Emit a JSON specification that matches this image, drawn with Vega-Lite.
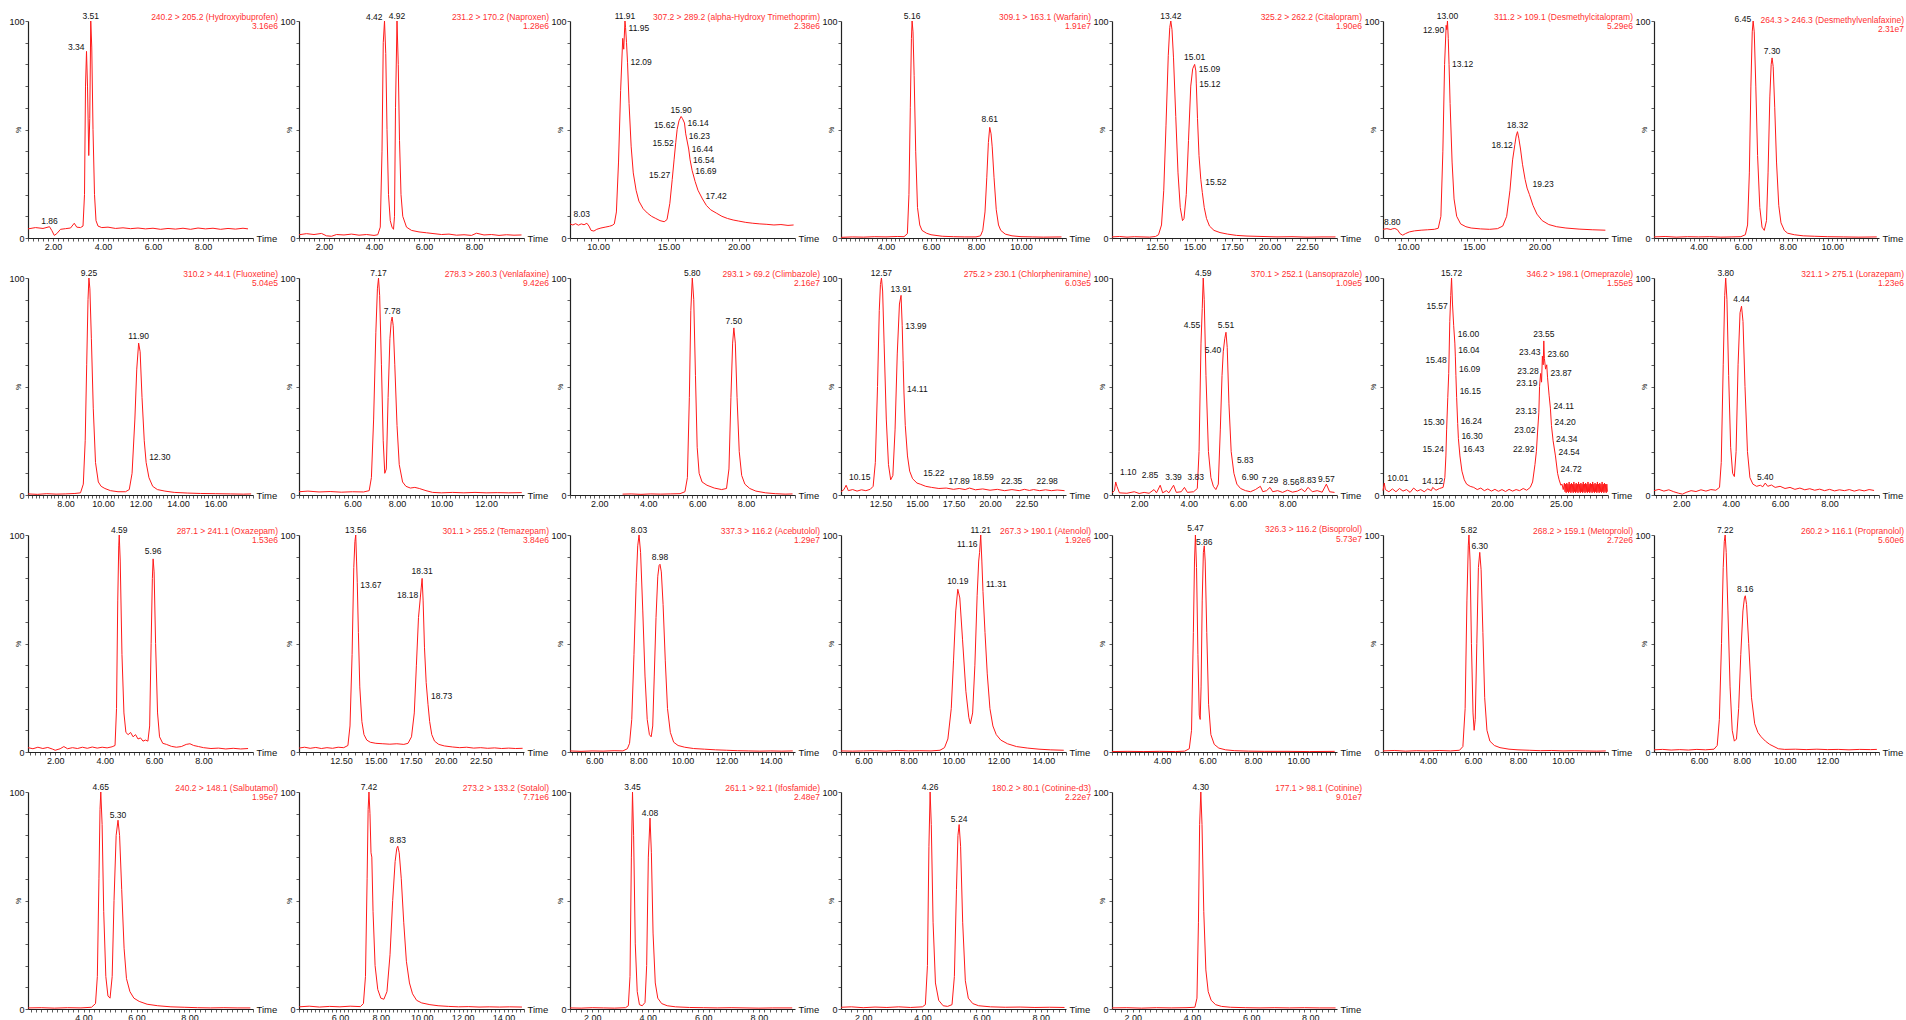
{
"$schema":"https://vega.github.io/schema/vega-lite/v6.json",
"background":"white",
"padding":{"left":8,"top":11,"right":0,"bottom":0},
"datasets":{
"L":[
{"p":1,"t":1.0,"v":4.2},{"p":1,"t":1.3,"v":4.8},{"p":1,"t":1.6,"v":4.4},{"p":1,"t":1.86,"v":5.2},{"p":1,"t":1.95,"v":3.5},{"p":1,"t":2.05,"v":1.2},{"p":1,"t":2.15,"v":2.0},{"p":1,"t":2.3,"v":4.0},{"p":1,"t":2.5,"v":4.3},{"p":1,"t":2.7,"v":4.6},{"p":1,"t":2.85,"v":6.8},{"p":1,"t":2.95,"v":5.0},{"p":1,"t":3.1,"v":4.8},{"p":1,"t":3.2,"v":5.5},{"p":1,"t":3.26,"v":20},{"p":1,"t":3.3,"v":70},{"p":1,"t":3.34,"v":86},{"p":1,"t":3.38,"v":70},{"p":1,"t":3.43,"v":38},{"p":1,"t":3.47,"v":55},{"p":1,"t":3.51,"v":100},{"p":1,"t":3.55,"v":88},{"p":1,"t":3.6,"v":50},{"p":1,"t":3.66,"v":20},{"p":1,"t":3.72,"v":8},{"p":1,"t":3.8,"v":5.5},{"p":1,"t":3.95,"v":4.8},{"p":1,"t":4.2,"v":5.0},{"p":1,"t":4.5,"v":4.4},{"p":1,"t":4.8,"v":4.7},{"p":1,"t":5.1,"v":4.3},{"p":1,"t":5.4,"v":4.6},{"p":1,"t":5.7,"v":4.2},{"p":1,"t":6.0,"v":4.5},{"p":1,"t":6.3,"v":4.0},{"p":1,"t":6.6,"v":4.4},{"p":1,"t":6.9,"v":4.1},{"p":1,"t":7.2,"v":4.5},{"p":1,"t":7.5,"v":4.0},{"p":1,"t":7.8,"v":4.6},{"p":1,"t":8.1,"v":4.2},{"p":1,"t":8.4,"v":4.5},{"p":1,"t":8.7,"v":4.0},{"p":1,"t":9.0,"v":4.4},{"p":1,"t":9.3,"v":4.1},{"p":1,"t":9.6,"v":4.5},{"p":1,"t":9.8,"v":4.2},
{"p":2,"t":1.0,"v":1.5},{"p":2,"t":1.3,"v":2.0},{"p":2,"t":1.6,"v":1.6},{"p":2,"t":1.9,"v":2.1},{"p":2,"t":2.1,"v":1.0},{"p":2,"t":2.3,"v":0.8},{"p":2,"t":2.5,"v":1.6},{"p":2,"t":2.8,"v":1.4},{"p":2,"t":3.1,"v":1.8},{"p":2,"t":3.4,"v":1.3},{"p":2,"t":3.7,"v":1.6},{"p":2,"t":4.0,"v":1.2},{"p":2,"t":4.15,"v":1.5},{"p":2,"t":4.25,"v":5},{"p":2,"t":4.32,"v":40},{"p":2,"t":4.37,"v":90},{"p":2,"t":4.42,"v":100},{"p":2,"t":4.47,"v":85},{"p":2,"t":4.52,"v":50},{"p":2,"t":4.58,"v":20},{"p":2,"t":4.65,"v":8},{"p":2,"t":4.72,"v":5},{"p":2,"t":4.78,"v":4},{"p":2,"t":4.82,"v":10},{"p":2,"t":4.86,"v":60},{"p":2,"t":4.92,"v":100},{"p":2,"t":4.97,"v":80},{"p":2,"t":5.02,"v":45},{"p":2,"t":5.08,"v":20},{"p":2,"t":5.15,"v":10},{"p":2,"t":5.3,"v":5},{"p":2,"t":5.5,"v":3.5},{"p":2,"t":5.8,"v":2.8},{"p":2,"t":6.1,"v":2.4},{"p":2,"t":6.4,"v":2.0},{"p":2,"t":6.7,"v":1.6},{"p":2,"t":7.0,"v":1.8},{"p":2,"t":7.3,"v":1.3},{"p":2,"t":7.6,"v":1.5},{"p":2,"t":7.9,"v":1.2},{"p":2,"t":8.1,"v":2.2},{"p":2,"t":8.4,"v":1.4},{"p":2,"t":8.7,"v":1.6},{"p":2,"t":9.0,"v":1.2},{"p":2,"t":9.3,"v":1.5},{"p":2,"t":9.6,"v":1.3},{"p":2,"t":9.9,"v":1.4},
{"p":3,"t":8.0,"v":6.5},{"p":3,"t":8.2,"v":6.0},{"p":3,"t":8.4,"v":6.6},{"p":3,"t":8.6,"v":5.9},{"p":3,"t":8.8,"v":6.5},{"p":3,"t":9.0,"v":6.1},{"p":3,"t":9.2,"v":6.8},{"p":3,"t":9.35,"v":5.5},{"p":3,"t":9.5,"v":3.5},{"p":3,"t":9.7,"v":3.2},{"p":3,"t":9.9,"v":4.0},{"p":3,"t":10.2,"v":4.6},{"p":3,"t":10.5,"v":5.0},{"p":3,"t":10.8,"v":5.4},{"p":3,"t":11.0,"v":5.8},{"p":3,"t":11.15,"v":6.5},{"p":3,"t":11.3,"v":12},{"p":3,"t":11.45,"v":35},{"p":3,"t":11.6,"v":68},{"p":3,"t":11.75,"v":92},{"p":3,"t":11.82,"v":87},{"p":3,"t":11.91,"v":100},{"p":3,"t":11.95,"v":97},{"p":3,"t":12.02,"v":90},{"p":3,"t":12.09,"v":81},{"p":3,"t":12.2,"v":62},{"p":3,"t":12.35,"v":42},{"p":3,"t":12.5,"v":30},{"p":3,"t":12.7,"v":22},{"p":3,"t":12.9,"v":17},{"p":3,"t":13.2,"v":13.5},{"p":3,"t":13.5,"v":11.5},{"p":3,"t":13.8,"v":10},{"p":3,"t":14.1,"v":9},{"p":3,"t":14.4,"v":8},{"p":3,"t":14.7,"v":7.5},{"p":3,"t":14.9,"v":8.5},{"p":3,"t":15.1,"v":16},{"p":3,"t":15.27,"v":27},{"p":3,"t":15.4,"v":36},{"p":3,"t":15.52,"v":44},{"p":3,"t":15.62,"v":50},{"p":3,"t":15.75,"v":54},{"p":3,"t":15.9,"v":56},{"p":3,"t":16.0,"v":55},{"p":3,"t":16.14,"v":53},{"p":3,"t":16.23,"v":48},{"p":3,"t":16.44,"v":41},{"p":3,"t":16.54,"v":36},{"p":3,"t":16.69,"v":31},{"p":3,"t":16.9,"v":26},{"p":3,"t":17.1,"v":22},{"p":3,"t":17.42,"v":18},{"p":3,"t":17.7,"v":15},{"p":3,"t":18.0,"v":13},{"p":3,"t":18.4,"v":11.5},{"p":3,"t":18.8,"v":10},{"p":3,"t":19.2,"v":9},{"p":3,"t":19.6,"v":8.3},{"p":3,"t":20.0,"v":7.8},{"p":3,"t":20.5,"v":7.2},{"p":3,"t":21.0,"v":6.8},{"p":3,"t":21.5,"v":6.5},{"p":3,"t":22.0,"v":6.3},{"p":3,"t":22.5,"v":6.0},{"p":3,"t":23.0,"v":6.2},{"p":3,"t":23.5,"v":5.8},{"p":3,"t":23.9,"v":6.0},
{"p":4,"t":2.0,"v":0.3},{"p":4,"t":2.5,"v":0.5},{"p":4,"t":3.0,"v":0.4},{"p":4,"t":3.5,"v":0.6},{"p":4,"t":4.0,"v":0.5},{"p":4,"t":4.5,"v":0.7},{"p":4,"t":4.8,"v":0.6},{"p":4,"t":4.95,"v":2},{"p":4,"t":5.02,"v":20},{"p":4,"t":5.08,"v":60},{"p":4,"t":5.13,"v":92},{"p":4,"t":5.16,"v":100},{"p":4,"t":5.2,"v":95},{"p":4,"t":5.25,"v":75},{"p":4,"t":5.32,"v":40},{"p":4,"t":5.4,"v":14},{"p":4,"t":5.5,"v":6},{"p":4,"t":5.6,"v":3.5},{"p":4,"t":5.8,"v":2.2},{"p":4,"t":6.0,"v":1.5},{"p":4,"t":6.5,"v":0.8},{"p":4,"t":7.0,"v":0.6},{"p":4,"t":7.5,"v":0.5},{"p":4,"t":8.0,"v":0.5},{"p":4,"t":8.2,"v":1.0},{"p":4,"t":8.3,"v":3.5},{"p":4,"t":8.4,"v":12},{"p":4,"t":8.48,"v":28},{"p":4,"t":8.55,"v":44},{"p":4,"t":8.61,"v":51},{"p":4,"t":8.67,"v":48},{"p":4,"t":8.72,"v":42},{"p":4,"t":8.8,"v":28},{"p":4,"t":8.9,"v":13},{"p":4,"t":9.0,"v":6},{"p":4,"t":9.1,"v":3.5},{"p":4,"t":9.3,"v":1.8},{"p":4,"t":9.6,"v":1.0},{"p":4,"t":10.0,"v":0.6},{"p":4,"t":10.5,"v":0.5},{"p":4,"t":11.0,"v":0.4},{"p":4,"t":11.8,"v":0.5},
{"p":5,"t":9.5,"v":0.5},{"p":5,"t":10.0,"v":0.7},{"p":5,"t":10.5,"v":0.4},{"p":5,"t":11.0,"v":0.6},{"p":5,"t":11.5,"v":0.5},{"p":5,"t":12.0,"v":0.4},{"p":5,"t":12.4,"v":0.7},{"p":5,"t":12.6,"v":1.5},{"p":5,"t":12.8,"v":6},{"p":5,"t":12.95,"v":22},{"p":5,"t":13.1,"v":52},{"p":5,"t":13.25,"v":84},{"p":5,"t":13.35,"v":97},{"p":5,"t":13.42,"v":100},{"p":5,"t":13.5,"v":96},{"p":5,"t":13.6,"v":83},{"p":5,"t":13.75,"v":56},{"p":5,"t":13.9,"v":30},{"p":5,"t":14.05,"v":14},{"p":5,"t":14.2,"v":8},{"p":5,"t":14.3,"v":9},{"p":5,"t":14.45,"v":20},{"p":5,"t":14.6,"v":45},{"p":5,"t":14.75,"v":70},{"p":5,"t":14.88,"v":78},{"p":5,"t":15.01,"v":80},{"p":5,"t":15.09,"v":77},{"p":5,"t":15.12,"v":71},{"p":5,"t":15.2,"v":55},{"p":5,"t":15.3,"v":38},{"p":5,"t":15.42,"v":27},{"p":5,"t":15.52,"v":21},{"p":5,"t":15.65,"v":14},{"p":5,"t":15.8,"v":9},{"p":5,"t":16.0,"v":5.5},{"p":5,"t":16.3,"v":3.5},{"p":5,"t":16.7,"v":2.5},{"p":5,"t":17.2,"v":1.8},{"p":5,"t":17.8,"v":1.2},{"p":5,"t":18.5,"v":0.9},{"p":5,"t":19.5,"v":0.7},{"p":5,"t":20.5,"v":0.5},{"p":5,"t":21.5,"v":0.6},{"p":5,"t":22.5,"v":0.4},{"p":5,"t":23.5,"v":0.5},{"p":5,"t":24.4,"v":0.5},
{"p":6,"t":8.1,"v":4.0},{"p":6,"t":8.4,"v":4.3},{"p":6,"t":8.7,"v":3.9},{"p":6,"t":8.8,"v":4.2},{"p":6,"t":9.0,"v":4.4},{"p":6,"t":9.2,"v":3.8},{"p":6,"t":9.4,"v":2.0},{"p":6,"t":9.6,"v":1.3},{"p":6,"t":9.8,"v":2.0},{"p":6,"t":10.1,"v":2.8},{"p":6,"t":10.5,"v":3.3},{"p":6,"t":11.0,"v":3.6},{"p":6,"t":11.5,"v":3.8},{"p":6,"t":12.0,"v":4.0},{"p":6,"t":12.3,"v":4.5},{"p":6,"t":12.5,"v":10},{"p":6,"t":12.65,"v":40},{"p":6,"t":12.78,"v":80},{"p":6,"t":12.9,"v":98},{"p":6,"t":12.95,"v":96},{"p":6,"t":13.0,"v":100},{"p":6,"t":13.06,"v":92},{"p":6,"t":13.12,"v":80},{"p":6,"t":13.2,"v":62},{"p":6,"t":13.35,"v":35},{"p":6,"t":13.5,"v":18},{"p":6,"t":13.7,"v":10},{"p":6,"t":14.0,"v":6.5},{"p":6,"t":14.4,"v":5.2},{"p":6,"t":14.8,"v":4.6},{"p":6,"t":15.5,"v":4.2},{"p":6,"t":16.2,"v":4.0},{"p":6,"t":16.8,"v":4.3},{"p":6,"t":17.2,"v":5.5},{"p":6,"t":17.5,"v":10},{"p":6,"t":17.75,"v":22},{"p":6,"t":17.95,"v":36},{"p":6,"t":18.12,"v":43},{"p":6,"t":18.22,"v":47},{"p":6,"t":18.32,"v":49},{"p":6,"t":18.42,"v":46},{"p":6,"t":18.55,"v":41},{"p":6,"t":18.7,"v":34},{"p":6,"t":18.9,"v":27},{"p":6,"t":19.05,"v":23},{"p":6,"t":19.23,"v":20},{"p":6,"t":19.5,"v":15},{"p":6,"t":19.8,"v":11},{"p":6,"t":20.2,"v":8},{"p":6,"t":20.7,"v":6.2},{"p":6,"t":21.3,"v":5.2},{"p":6,"t":22.0,"v":4.6},{"p":6,"t":23.0,"v":4.1},{"p":6,"t":24.0,"v":3.8},{"p":6,"t":25.0,"v":3.6},
{"p":7,"t":2.0,"v":0.5},{"p":7,"t":2.5,"v":0.7},{"p":7,"t":3.0,"v":0.4},{"p":7,"t":3.5,"v":0.6},{"p":7,"t":4.0,"v":0.5},{"p":7,"t":4.5,"v":0.6},{"p":7,"t":5.0,"v":0.4},{"p":7,"t":5.5,"v":0.5},{"p":7,"t":5.9,"v":0.6},{"p":7,"t":6.1,"v":1.5},{"p":7,"t":6.2,"v":6},{"p":7,"t":6.28,"v":30},{"p":7,"t":6.35,"v":70},{"p":7,"t":6.41,"v":95},{"p":7,"t":6.45,"v":100},{"p":7,"t":6.5,"v":95},{"p":7,"t":6.57,"v":70},{"p":7,"t":6.65,"v":38},{"p":7,"t":6.75,"v":14},{"p":7,"t":6.85,"v":5},{"p":7,"t":6.95,"v":3.5},{"p":7,"t":7.05,"v":8},{"p":7,"t":7.12,"v":30},{"p":7,"t":7.2,"v":65},{"p":7,"t":7.26,"v":80},{"p":7,"t":7.3,"v":83},{"p":7,"t":7.35,"v":79},{"p":7,"t":7.42,"v":60},{"p":7,"t":7.5,"v":35},{"p":7,"t":7.6,"v":15},{"p":7,"t":7.7,"v":7},{"p":7,"t":7.85,"v":3.5},{"p":7,"t":8.0,"v":2.2},{"p":7,"t":8.3,"v":1.5},{"p":7,"t":8.7,"v":1.0},{"p":7,"t":9.2,"v":0.8},{"p":7,"t":9.8,"v":0.6},{"p":7,"t":10.5,"v":0.5},{"p":7,"t":11.2,"v":0.4},{"p":7,"t":12.0,"v":0.5},
{"p":8,"t":6.0,"v":0.5},{"p":8,"t":6.5,"v":0.3},{"p":8,"t":7.0,"v":0.6},{"p":8,"t":7.5,"v":0.4},{"p":8,"t":8.0,"v":0.5},{"p":8,"t":8.5,"v":0.7},{"p":8,"t":8.8,"v":1.0},{"p":8,"t":8.95,"v":5},{"p":8,"t":9.05,"v":25},{"p":8,"t":9.13,"v":60},{"p":8,"t":9.2,"v":90},{"p":8,"t":9.25,"v":100},{"p":8,"t":9.3,"v":95},{"p":8,"t":9.38,"v":72},{"p":8,"t":9.48,"v":40},{"p":8,"t":9.6,"v":15},{"p":8,"t":9.75,"v":6},{"p":8,"t":9.9,"v":4},{"p":8,"t":10.1,"v":3},{"p":8,"t":10.4,"v":2},{"p":8,"t":10.8,"v":1.5},{"p":8,"t":11.2,"v":1.5},{"p":8,"t":11.4,"v":2.5},{"p":8,"t":11.55,"v":10},{"p":8,"t":11.7,"v":35},{"p":8,"t":11.8,"v":58},{"p":8,"t":11.9,"v":70},{"p":8,"t":11.98,"v":66},{"p":8,"t":12.08,"v":45},{"p":8,"t":12.2,"v":25},{"p":8,"t":12.3,"v":15},{"p":8,"t":12.45,"v":8},{"p":8,"t":12.65,"v":4},{"p":8,"t":12.9,"v":2.5},{"p":8,"t":13.3,"v":1.8},{"p":8,"t":13.8,"v":1.2},{"p":8,"t":14.5,"v":0.9},{"p":8,"t":15.2,"v":0.7},{"p":8,"t":16.0,"v":0.6},{"p":8,"t":16.8,"v":0.5},{"p":8,"t":17.5,"v":0.4},{"p":8,"t":17.9,"v":0.5},
{"p":9,"t":3.6,"v":1.5},{"p":9,"t":4.0,"v":1.8},{"p":9,"t":4.5,"v":1.4},{"p":9,"t":5.0,"v":1.6},{"p":9,"t":5.5,"v":1.3},{"p":9,"t":6.0,"v":1.5},{"p":9,"t":6.5,"v":1.4},{"p":9,"t":6.75,"v":2.0},{"p":9,"t":6.85,"v":8},{"p":9,"t":6.95,"v":35},{"p":9,"t":7.05,"v":75},{"p":9,"t":7.12,"v":95},{"p":9,"t":7.17,"v":100},{"p":9,"t":7.22,"v":92},{"p":9,"t":7.3,"v":60},{"p":9,"t":7.38,"v":25},{"p":9,"t":7.45,"v":10},{"p":9,"t":7.52,"v":12},{"p":9,"t":7.6,"v":45},{"p":9,"t":7.68,"v":72},{"p":9,"t":7.74,"v":80},{"p":9,"t":7.78,"v":82},{"p":9,"t":7.83,"v":78},{"p":9,"t":7.9,"v":60},{"p":9,"t":8.0,"v":32},{"p":9,"t":8.1,"v":14},{"p":9,"t":8.25,"v":6},{"p":9,"t":8.4,"v":4},{"p":9,"t":8.6,"v":3.2},{"p":9,"t":8.8,"v":3.5},{"p":9,"t":9.0,"v":3.0},{"p":9,"t":9.3,"v":2.0},{"p":9,"t":9.6,"v":1.2},{"p":9,"t":10.0,"v":1.0},{"p":9,"t":10.5,"v":1.2},{"p":9,"t":11.0,"v":1.0},{"p":9,"t":11.5,"v":1.2},{"p":9,"t":12.0,"v":1.0},{"p":9,"t":12.5,"v":1.1},{"p":9,"t":13.0,"v":1.0},{"p":9,"t":13.6,"v":1.1},
{"p":10,"t":2.95,"v":0.4},{"p":10,"t":3.3,"v":0.5},{"p":10,"t":3.7,"v":0.3},{"p":10,"t":4.1,"v":0.5},{"p":10,"t":4.5,"v":0.4},{"p":10,"t":4.9,"v":0.5},{"p":10,"t":5.3,"v":0.6},{"p":10,"t":5.5,"v":1.5},{"p":10,"t":5.6,"v":8},{"p":10,"t":5.68,"v":45},{"p":10,"t":5.74,"v":85},{"p":10,"t":5.8,"v":100},{"p":10,"t":5.86,"v":90},{"p":10,"t":5.93,"v":55},{"p":10,"t":6.0,"v":22},{"p":10,"t":6.08,"v":10},{"p":10,"t":6.2,"v":6},{"p":10,"t":6.4,"v":4.5},{"p":10,"t":6.7,"v":3.2},{"p":10,"t":7.0,"v":2.5},{"p":10,"t":7.2,"v":3},{"p":10,"t":7.3,"v":12},{"p":10,"t":7.38,"v":45},{"p":10,"t":7.45,"v":70},{"p":10,"t":7.5,"v":77},{"p":10,"t":7.56,"v":70},{"p":10,"t":7.63,"v":45},{"p":10,"t":7.72,"v":20},{"p":10,"t":7.82,"v":9},{"p":10,"t":7.95,"v":5},{"p":10,"t":8.15,"v":3},{"p":10,"t":8.4,"v":1.8},{"p":10,"t":8.8,"v":1.0},{"p":10,"t":9.2,"v":0.6},{"p":10,"t":9.6,"v":0.4},{"p":10,"t":9.9,"v":0.5},
{"p":11,"t":9.8,"v":1.5},{"p":11,"t":10.0,"v":2.5},{"p":11,"t":10.15,"v":4.5},{"p":11,"t":10.3,"v":2.0},{"p":11,"t":10.6,"v":2.5},{"p":11,"t":10.9,"v":1.8},{"p":11,"t":11.2,"v":2.4},{"p":11,"t":11.5,"v":2.0},{"p":11,"t":11.8,"v":2.6},{"p":11,"t":12.0,"v":4},{"p":11,"t":12.15,"v":15},{"p":11,"t":12.3,"v":50},{"p":11,"t":12.42,"v":85},{"p":11,"t":12.5,"v":97},{"p":11,"t":12.57,"v":100},{"p":11,"t":12.65,"v":94},{"p":11,"t":12.75,"v":70},{"p":11,"t":12.9,"v":35},{"p":11,"t":13.05,"v":14},{"p":11,"t":13.2,"v":7},{"p":11,"t":13.35,"v":9},{"p":11,"t":13.5,"v":30},{"p":11,"t":13.65,"v":65},{"p":11,"t":13.8,"v":88},{"p":11,"t":13.91,"v":92},{"p":11,"t":13.99,"v":78},{"p":11,"t":14.05,"v":62},{"p":11,"t":14.11,"v":47},{"p":11,"t":14.2,"v":32},{"p":11,"t":14.35,"v":18},{"p":11,"t":14.5,"v":11},{"p":11,"t":14.7,"v":7.5},{"p":11,"t":15.0,"v":5.5},{"p":11,"t":15.22,"v":5},{"p":11,"t":15.6,"v":4},{"p":11,"t":16.0,"v":3.5},{"p":11,"t":16.5,"v":3.0},{"p":11,"t":17.0,"v":3.2},{"p":11,"t":17.5,"v":2.6},{"p":11,"t":17.89,"v":3.0},{"p":11,"t":18.3,"v":2.5},{"p":11,"t":18.59,"v":3.2},{"p":11,"t":19.0,"v":2.4},{"p":11,"t":19.5,"v":2.8},{"p":11,"t":20.0,"v":2.2},{"p":11,"t":20.5,"v":2.6},{"p":11,"t":21.0,"v":2.0},{"p":11,"t":21.5,"v":2.5},{"p":11,"t":22.0,"v":2.0},{"p":11,"t":22.35,"v":2.6},{"p":11,"t":22.7,"v":2.1},{"p":11,"t":22.98,"v":2.5},{"p":11,"t":23.4,"v":2.0},{"p":11,"t":23.8,"v":2.4},{"p":11,"t":24.2,"v":2.0},{"p":11,"t":24.6,"v":2.3},{"p":11,"t":25.1,"v":2.0},
{"p":12,"t":0.9,"v":1.0},{"p":12,"t":1.0,"v":2.0},{"p":12,"t":1.05,"v":6.0},{"p":12,"t":1.1,"v":4.0},{"p":12,"t":1.2,"v":1.0},{"p":12,"t":1.5,"v":0.8},{"p":12,"t":1.8,"v":1.5},{"p":12,"t":2.0,"v":0.7},{"p":12,"t":2.2,"v":1.2},{"p":12,"t":2.4,"v":0.8},{"p":12,"t":2.6,"v":2.5},{"p":12,"t":2.7,"v":1.0},{"p":12,"t":2.85,"v":4.5},{"p":12,"t":2.95,"v":1.0},{"p":12,"t":3.1,"v":2.0},{"p":12,"t":3.2,"v":1.0},{"p":12,"t":3.39,"v":4.5},{"p":12,"t":3.5,"v":1.2},{"p":12,"t":3.7,"v":1.5},{"p":12,"t":3.83,"v":3.5},{"p":12,"t":3.95,"v":1.2},{"p":12,"t":4.2,"v":1.5},{"p":12,"t":4.35,"v":3},{"p":12,"t":4.42,"v":20},{"p":12,"t":4.5,"v":70},{"p":12,"t":4.55,"v":86},{"p":12,"t":4.59,"v":100},{"p":12,"t":4.63,"v":90},{"p":12,"t":4.7,"v":55},{"p":12,"t":4.8,"v":20},{"p":12,"t":4.9,"v":8},{"p":12,"t":5.0,"v":4},{"p":12,"t":5.1,"v":2.5},{"p":12,"t":5.2,"v":5},{"p":12,"t":5.28,"v":30},{"p":12,"t":5.35,"v":55},{"p":12,"t":5.4,"v":66},{"p":12,"t":5.46,"v":72},{"p":12,"t":5.51,"v":75},{"p":12,"t":5.56,"v":68},{"p":12,"t":5.63,"v":42},{"p":12,"t":5.72,"v":20},{"p":12,"t":5.83,"v":10},{"p":12,"t":5.95,"v":5},{"p":12,"t":6.1,"v":3},{"p":12,"t":6.3,"v":2.0},{"p":12,"t":6.5,"v":1.5},{"p":12,"t":6.7,"v":2.5},{"p":12,"t":6.9,"v":4.0},{"p":12,"t":7.0,"v":1.5},{"p":12,"t":7.15,"v":2.0},{"p":12,"t":7.29,"v":3.5},{"p":12,"t":7.4,"v":1.5},{"p":12,"t":7.6,"v":2.0},{"p":12,"t":7.8,"v":1.2},{"p":12,"t":8.0,"v":2.2},{"p":12,"t":8.2,"v":1.3},{"p":12,"t":8.4,"v":1.8},{"p":12,"t":8.56,"v":2.8},{"p":12,"t":8.7,"v":1.5},{"p":12,"t":8.83,"v":3.5},{"p":12,"t":9.0,"v":1.5},{"p":12,"t":9.2,"v":2.0},{"p":12,"t":9.4,"v":1.3},{"p":12,"t":9.57,"v":5.0},{"p":12,"t":9.7,"v":1.5},{"p":12,"t":9.9,"v":1.2},
{"p":13,"t":9.9,"v":2.0},{"p":13,"t":10.01,"v":5.5},{"p":13,"t":10.1,"v":2.5},{"p":13,"t":10.4,"v":1.5},{"p":13,"t":10.7,"v":2.8},{"p":13,"t":11.0,"v":1.5},{"p":13,"t":11.3,"v":3.0},{"p":13,"t":11.6,"v":1.8},{"p":13,"t":11.9,"v":2.5},{"p":13,"t":12.2,"v":1.2},{"p":13,"t":12.5,"v":3.2},{"p":13,"t":12.8,"v":1.8},{"p":13,"t":13.1,"v":2.5},{"p":13,"t":13.4,"v":1.5},{"p":13,"t":13.7,"v":2.8},{"p":13,"t":14.0,"v":2.0},{"p":13,"t":14.12,"v":3.5},{"p":13,"t":14.4,"v":2.2},{"p":13,"t":14.7,"v":3.0},{"p":13,"t":15.0,"v":3.5},{"p":13,"t":15.15,"v":8},{"p":13,"t":15.24,"v":18},{"p":13,"t":15.3,"v":30},{"p":13,"t":15.4,"v":45},{"p":13,"t":15.48,"v":56},{"p":13,"t":15.57,"v":80},{"p":13,"t":15.65,"v":92},{"p":13,"t":15.72,"v":100},{"p":13,"t":15.8,"v":88},{"p":13,"t":15.9,"v":78},{"p":13,"t":16.0,"v":70},{"p":13,"t":16.04,"v":64},{"p":13,"t":16.09,"v":55},{"p":13,"t":16.15,"v":45},{"p":13,"t":16.24,"v":33},{"p":13,"t":16.3,"v":26},{"p":13,"t":16.43,"v":18},{"p":13,"t":16.6,"v":11},{"p":13,"t":16.8,"v":7},{"p":13,"t":17.0,"v":5},{"p":13,"t":17.3,"v":4},{"p":13,"t":17.6,"v":3.5},{"p":13,"t":17.9,"v":2.5},{"p":13,"t":18.2,"v":3.2},{"p":13,"t":18.5,"v":2.0},{"p":13,"t":18.8,"v":2.8},{"p":13,"t":19.1,"v":1.8},{"p":13,"t":19.4,"v":2.6},{"p":13,"t":19.7,"v":1.7},{"p":13,"t":20.0,"v":2.5},{"p":13,"t":20.3,"v":1.6},{"p":13,"t":20.6,"v":2.6},{"p":13,"t":20.9,"v":1.8},{"p":13,"t":21.2,"v":2.5},{"p":13,"t":21.5,"v":2.0},{"p":13,"t":21.8,"v":3.0},{"p":13,"t":22.1,"v":2.2},{"p":13,"t":22.4,"v":3.5},{"p":13,"t":22.6,"v":6},{"p":13,"t":22.8,"v":14},{"p":13,"t":22.92,"v":20},{"p":13,"t":23.02,"v":29},{"p":13,"t":23.13,"v":38},{"p":13,"t":23.19,"v":50},{"p":13,"t":23.28,"v":56},{"p":13,"t":23.36,"v":52},{"p":13,"t":23.43,"v":64},{"p":13,"t":23.5,"v":60},{"p":13,"t":23.55,"v":71},{"p":13,"t":23.6,"v":63},{"p":13,"t":23.7,"v":58},{"p":13,"t":23.8,"v":60},{"p":13,"t":23.87,"v":54},{"p":13,"t":24.0,"v":46},{"p":13,"t":24.11,"v":40},{"p":13,"t":24.2,"v":32},{"p":13,"t":24.34,"v":25},{"p":13,"t":24.54,"v":18},{"p":13,"t":24.72,"v":10},{"p":13,"t":24.85,"v":7},{"p":13,"t":25.0,"v":4.5},{"p":13,"t":25.1,"v":5},{"p":13,"t":25.2,"v":2.5},{"p":13,"t":25.3,"v":5.5},{"p":13,"t":25.35,"v":1.5},{"p":13,"t":25.4,"v":5},{"p":13,"t":25.45,"v":1},{"p":13,"t":25.5,"v":5.5},{"p":13,"t":25.55,"v":1.5},{"p":13,"t":25.6,"v":5},{"p":13,"t":25.65,"v":1},{"p":13,"t":25.7,"v":6},{"p":13,"t":25.75,"v":1.5},{"p":13,"t":25.8,"v":5},{"p":13,"t":25.85,"v":1},{"p":13,"t":25.9,"v":5.5},{"p":13,"t":25.95,"v":1.5},{"p":13,"t":26.0,"v":5},{"p":13,"t":26.05,"v":1},{"p":13,"t":26.1,"v":6},{"p":13,"t":26.15,"v":1.5},{"p":13,"t":26.2,"v":5},{"p":13,"t":26.25,"v":1},{"p":13,"t":26.3,"v":5.5},{"p":13,"t":26.35,"v":1.5},{"p":13,"t":26.4,"v":5},{"p":13,"t":26.45,"v":1},{"p":13,"t":26.5,"v":6},{"p":13,"t":26.55,"v":1.5},{"p":13,"t":26.6,"v":5},{"p":13,"t":26.65,"v":1},{"p":13,"t":26.7,"v":5.5},{"p":13,"t":26.75,"v":1.5},{"p":13,"t":26.8,"v":5},{"p":13,"t":26.85,"v":1},{"p":13,"t":26.9,"v":6},{"p":13,"t":26.95,"v":1.5},{"p":13,"t":27.0,"v":5},{"p":13,"t":27.05,"v":1},{"p":13,"t":27.1,"v":5.5},{"p":13,"t":27.15,"v":1.5},{"p":13,"t":27.2,"v":5},{"p":13,"t":27.25,"v":1},{"p":13,"t":27.3,"v":6},{"p":13,"t":27.35,"v":1.5},{"p":13,"t":27.4,"v":5},{"p":13,"t":27.45,"v":1},{"p":13,"t":27.5,"v":5.5},{"p":13,"t":27.55,"v":1.5},{"p":13,"t":27.6,"v":5},{"p":13,"t":27.65,"v":1},{"p":13,"t":27.7,"v":6},{"p":13,"t":27.75,"v":1.5},{"p":13,"t":27.8,"v":5},{"p":13,"t":27.85,"v":1},{"p":13,"t":27.9,"v":5.5},{"p":13,"t":27.95,"v":1.5},{"p":13,"t":28.0,"v":5},{"p":13,"t":28.05,"v":1},{"p":13,"t":28.1,"v":6},{"p":13,"t":28.15,"v":1.5},{"p":13,"t":28.2,"v":5},{"p":13,"t":28.25,"v":1},{"p":13,"t":28.3,"v":5.5},{"p":13,"t":28.35,"v":1.5},{"p":13,"t":28.4,"v":5},{"p":13,"t":28.45,"v":1},{"p":13,"t":28.5,"v":6},{"p":13,"t":28.55,"v":1.5},{"p":13,"t":28.6,"v":5},{"p":13,"t":28.65,"v":1},{"p":13,"t":28.7,"v":5.5},{"p":13,"t":28.75,"v":1.5},{"p":13,"t":28.8,"v":5},{"p":13,"t":28.85,"v":1},{"p":13,"t":28.9,"v":5},{"p":13,"t":28.95,"v":1.5},
{"p":14,"t":0.9,"v":2.0},{"p":14,"t":1.1,"v":2.6},{"p":14,"t":1.3,"v":1.8},{"p":14,"t":1.5,"v":2.4},{"p":14,"t":1.7,"v":1.5},{"p":14,"t":1.9,"v":0.8},{"p":14,"t":2.05,"v":0.4},{"p":14,"t":2.2,"v":1.2},{"p":14,"t":2.4,"v":2.0},{"p":14,"t":2.6,"v":1.6},{"p":14,"t":2.8,"v":2.4},{"p":14,"t":3.0,"v":1.8},{"p":14,"t":3.2,"v":2.5},{"p":14,"t":3.4,"v":2.2},{"p":14,"t":3.55,"v":3.5},{"p":14,"t":3.62,"v":15},{"p":14,"t":3.7,"v":60},{"p":14,"t":3.76,"v":92},{"p":14,"t":3.8,"v":100},{"p":14,"t":3.85,"v":90},{"p":14,"t":3.92,"v":55},{"p":14,"t":4.0,"v":22},{"p":14,"t":4.08,"v":10},{"p":14,"t":4.15,"v":8.5},{"p":14,"t":4.22,"v":20},{"p":14,"t":4.3,"v":60},{"p":14,"t":4.38,"v":84},{"p":14,"t":4.44,"v":87},{"p":14,"t":4.5,"v":80},{"p":14,"t":4.58,"v":50},{"p":14,"t":4.68,"v":20},{"p":14,"t":4.78,"v":8},{"p":14,"t":4.9,"v":5},{"p":14,"t":5.05,"v":4},{"p":14,"t":5.2,"v":4.5},{"p":14,"t":5.3,"v":3.8},{"p":14,"t":5.4,"v":5.5},{"p":14,"t":5.5,"v":4.0},{"p":14,"t":5.65,"v":4.6},{"p":14,"t":5.8,"v":3.5},{"p":14,"t":6.0,"v":4.0},{"p":14,"t":6.2,"v":3.0},{"p":14,"t":6.4,"v":3.5},{"p":14,"t":6.6,"v":2.6},{"p":14,"t":6.8,"v":3.2},{"p":14,"t":7.0,"v":2.4},{"p":14,"t":7.2,"v":2.9},{"p":14,"t":7.4,"v":2.2},{"p":14,"t":7.6,"v":2.7},{"p":14,"t":7.8,"v":2.0},{"p":14,"t":8.0,"v":2.6},{"p":14,"t":8.2,"v":1.9},{"p":14,"t":8.4,"v":2.4},{"p":14,"t":8.6,"v":2.0},{"p":14,"t":8.8,"v":2.5},{"p":14,"t":9.0,"v":1.8},{"p":14,"t":9.2,"v":2.4},{"p":14,"t":9.4,"v":1.9},{"p":14,"t":9.6,"v":2.5},{"p":14,"t":9.8,"v":2.1},
{"p":15,"t":0.9,"v":2.0},{"p":15,"t":1.1,"v":1.5},{"p":15,"t":1.3,"v":2.2},{"p":15,"t":1.5,"v":1.6},{"p":15,"t":1.7,"v":2.1},{"p":15,"t":1.9,"v":1.3},{"p":15,"t":2.0,"v":0.8},{"p":15,"t":2.2,"v":1.5},{"p":15,"t":2.35,"v":2.5},{"p":15,"t":2.5,"v":1.5},{"p":15,"t":2.7,"v":2.0},{"p":15,"t":2.9,"v":1.6},{"p":15,"t":3.1,"v":2.2},{"p":15,"t":3.3,"v":1.7},{"p":15,"t":3.5,"v":2.3},{"p":15,"t":3.7,"v":1.8},{"p":15,"t":3.9,"v":2.2},{"p":15,"t":4.1,"v":1.9},{"p":15,"t":4.3,"v":2.4},{"p":15,"t":4.42,"v":3},{"p":15,"t":4.48,"v":20},{"p":15,"t":4.53,"v":70},{"p":15,"t":4.57,"v":95},{"p":15,"t":4.59,"v":100},{"p":15,"t":4.63,"v":88},{"p":15,"t":4.7,"v":45},{"p":15,"t":4.78,"v":18},{"p":15,"t":4.86,"v":9},{"p":15,"t":4.95,"v":8},{"p":15,"t":5.05,"v":9},{"p":15,"t":5.15,"v":7},{"p":15,"t":5.25,"v":8},{"p":15,"t":5.35,"v":6},{"p":15,"t":5.45,"v":6.5},{"p":15,"t":5.55,"v":5},{"p":15,"t":5.65,"v":5.5},{"p":15,"t":5.75,"v":5},{"p":15,"t":5.82,"v":12},{"p":15,"t":5.88,"v":50},{"p":15,"t":5.93,"v":80},{"p":15,"t":5.96,"v":89},{"p":15,"t":6.0,"v":83},{"p":15,"t":6.06,"v":50},{"p":15,"t":6.14,"v":18},{"p":15,"t":6.22,"v":7},{"p":15,"t":6.35,"v":4},{"p":15,"t":6.5,"v":3.5},{"p":15,"t":6.7,"v":2.6},{"p":15,"t":6.9,"v":2.2},{"p":15,"t":7.1,"v":2.5},{"p":15,"t":7.3,"v":3.5},{"p":15,"t":7.45,"v":3.8},{"p":15,"t":7.6,"v":3.0},{"p":15,"t":7.8,"v":2.5},{"p":15,"t":8.0,"v":2.0},{"p":15,"t":8.3,"v":1.6},{"p":15,"t":8.6,"v":1.8},{"p":15,"t":8.9,"v":1.4},{"p":15,"t":9.2,"v":1.7},{"p":15,"t":9.5,"v":1.4},{"p":15,"t":9.8,"v":1.6},
{"p":16,"t":9.5,"v":1.8},{"p":16,"t":9.9,"v":2.2},{"p":16,"t":10.3,"v":1.7},{"p":16,"t":10.7,"v":2.1},{"p":16,"t":11.1,"v":1.6},{"p":16,"t":11.5,"v":2.0},{"p":16,"t":11.9,"v":1.7},{"p":16,"t":12.3,"v":2.2},{"p":16,"t":12.7,"v":2.0},{"p":16,"t":13.0,"v":3},{"p":16,"t":13.15,"v":12},{"p":16,"t":13.3,"v":45},{"p":16,"t":13.42,"v":85},{"p":16,"t":13.5,"v":97},{"p":16,"t":13.56,"v":100},{"p":16,"t":13.62,"v":88},{"p":16,"t":13.67,"v":78},{"p":16,"t":13.75,"v":55},{"p":16,"t":13.85,"v":30},{"p":16,"t":14.0,"v":14},{"p":16,"t":14.15,"v":8},{"p":16,"t":14.35,"v":5.5},{"p":16,"t":14.6,"v":4.5},{"p":16,"t":15.0,"v":4.0},{"p":16,"t":15.5,"v":3.8},{"p":16,"t":16.0,"v":3.6},{"p":16,"t":16.5,"v":3.8},{"p":16,"t":17.0,"v":3.5},{"p":16,"t":17.3,"v":4.0},{"p":16,"t":17.55,"v":7},{"p":16,"t":17.75,"v":18},{"p":16,"t":17.9,"v":40},{"p":16,"t":18.05,"v":62},{"p":16,"t":18.18,"v":71},{"p":16,"t":18.25,"v":76},{"p":16,"t":18.31,"v":80},{"p":16,"t":18.38,"v":70},{"p":16,"t":18.48,"v":48},{"p":16,"t":18.6,"v":32},{"p":16,"t":18.73,"v":22},{"p":16,"t":18.85,"v":14},{"p":16,"t":19.0,"v":8},{"p":16,"t":19.2,"v":5},{"p":16,"t":19.5,"v":3.5},{"p":16,"t":19.9,"v":2.8},{"p":16,"t":20.5,"v":2.3},{"p":16,"t":21.0,"v":2.0},{"p":16,"t":21.5,"v":2.2},{"p":16,"t":22.0,"v":1.8},{"p":16,"t":22.5,"v":2.0},{"p":16,"t":23.0,"v":1.7},{"p":16,"t":23.5,"v":1.9},{"p":16,"t":24.0,"v":1.6},{"p":16,"t":24.5,"v":1.8},{"p":16,"t":25.0,"v":1.6},{"p":16,"t":25.5,"v":1.7},
{"p":17,"t":4.9,"v":0.5},{"p":17,"t":5.4,"v":0.3},{"p":17,"t":5.9,"v":0.5},{"p":17,"t":6.4,"v":0.4},{"p":17,"t":6.9,"v":0.6},{"p":17,"t":7.3,"v":0.5},{"p":17,"t":7.5,"v":1.5},{"p":17,"t":7.6,"v":4},{"p":17,"t":7.7,"v":15},{"p":17,"t":7.8,"v":45},{"p":17,"t":7.9,"v":78},{"p":17,"t":7.97,"v":95},{"p":17,"t":8.03,"v":100},{"p":17,"t":8.1,"v":92},{"p":17,"t":8.2,"v":65},{"p":17,"t":8.3,"v":35},{"p":17,"t":8.4,"v":15},{"p":17,"t":8.5,"v":8},{"p":17,"t":8.58,"v":7},{"p":17,"t":8.65,"v":12},{"p":17,"t":8.72,"v":35},{"p":17,"t":8.8,"v":62},{"p":17,"t":8.88,"v":81},{"p":17,"t":8.94,"v":86},{"p":17,"t":8.98,"v":86.5},{"p":17,"t":9.04,"v":83},{"p":17,"t":9.12,"v":68},{"p":17,"t":9.22,"v":42},{"p":17,"t":9.32,"v":20},{"p":17,"t":9.45,"v":9},{"p":17,"t":9.6,"v":4.5},{"p":17,"t":9.8,"v":3.0},{"p":17,"t":10.1,"v":2.2},{"p":17,"t":10.5,"v":1.6},{"p":17,"t":11.0,"v":1.3},{"p":17,"t":11.5,"v":1.0},{"p":17,"t":12.0,"v":0.8},{"p":17,"t":12.5,"v":0.6},{"p":17,"t":13.0,"v":0.5},{"p":17,"t":13.5,"v":0.4},{"p":17,"t":14.0,"v":0.5},{"p":17,"t":14.5,"v":0.4},{"p":17,"t":15.0,"v":0.5},
{"p":18,"t":5.0,"v":0.5},{"p":18,"t":5.5,"v":0.4},{"p":18,"t":6.0,"v":0.5},{"p":18,"t":6.5,"v":0.6},{"p":18,"t":7.0,"v":0.4},{"p":18,"t":7.5,"v":0.7},{"p":18,"t":8.0,"v":0.5},{"p":18,"t":8.5,"v":0.6},{"p":18,"t":9.0,"v":0.5},{"p":18,"t":9.4,"v":0.8},{"p":18,"t":9.6,"v":2.0},{"p":18,"t":9.75,"v":6},{"p":18,"t":9.9,"v":20},{"p":18,"t":10.0,"v":42},{"p":18,"t":10.1,"v":65},{"p":18,"t":10.19,"v":75},{"p":18,"t":10.28,"v":71},{"p":18,"t":10.4,"v":52},{"p":18,"t":10.55,"v":28},{"p":18,"t":10.68,"v":16},{"p":18,"t":10.75,"v":13},{"p":18,"t":10.85,"v":18},{"p":18,"t":10.95,"v":40},{"p":18,"t":11.05,"v":72},{"p":18,"t":11.12,"v":88},{"p":18,"t":11.16,"v":92},{"p":18,"t":11.21,"v":100},{"p":18,"t":11.26,"v":88},{"p":18,"t":11.31,"v":74},{"p":18,"t":11.4,"v":55},{"p":18,"t":11.5,"v":36},{"p":18,"t":11.62,"v":20},{"p":18,"t":11.75,"v":12},{"p":18,"t":11.9,"v":8},{"p":18,"t":12.1,"v":5.5},{"p":18,"t":12.4,"v":3.8},{"p":18,"t":12.8,"v":2.5},{"p":18,"t":13.3,"v":1.8},{"p":18,"t":13.8,"v":1.3},{"p":18,"t":14.3,"v":1.0},{"p":18,"t":14.9,"v":0.8},
{"p":19,"t":1.8,"v":0.2},{"p":19,"t":2.5,"v":0.3},{"p":19,"t":3.2,"v":0.2},{"p":19,"t":3.9,"v":0.3},{"p":19,"t":4.6,"v":0.2},{"p":19,"t":5.0,"v":0.4},{"p":19,"t":5.2,"v":1.5},{"p":19,"t":5.3,"v":10},{"p":19,"t":5.38,"v":55},{"p":19,"t":5.43,"v":88},{"p":19,"t":5.47,"v":100},{"p":19,"t":5.52,"v":85},{"p":19,"t":5.58,"v":45},{"p":19,"t":5.64,"v":17},{"p":19,"t":5.68,"v":15},{"p":19,"t":5.72,"v":30},{"p":19,"t":5.77,"v":70},{"p":19,"t":5.82,"v":92},{"p":19,"t":5.86,"v":95},{"p":19,"t":5.9,"v":88},{"p":19,"t":5.97,"v":55},{"p":19,"t":6.05,"v":22},{"p":19,"t":6.15,"v":8},{"p":19,"t":6.3,"v":3.5},{"p":19,"t":6.5,"v":1.8},{"p":19,"t":6.8,"v":1.0},{"p":19,"t":7.2,"v":0.6},{"p":19,"t":7.8,"v":0.4},{"p":19,"t":8.5,"v":0.3},{"p":19,"t":9.5,"v":0.3},{"p":19,"t":10.5,"v":0.2},{"p":19,"t":11.6,"v":0.3},
{"p":20,"t":2.0,"v":0.5},{"p":20,"t":2.5,"v":0.7},{"p":20,"t":3.0,"v":0.4},{"p":20,"t":3.5,"v":0.6},{"p":20,"t":4.0,"v":0.5},{"p":20,"t":4.5,"v":0.7},{"p":20,"t":5.0,"v":0.5},{"p":20,"t":5.4,"v":0.8},{"p":20,"t":5.55,"v":2.5},{"p":20,"t":5.65,"v":20},{"p":20,"t":5.73,"v":70},{"p":20,"t":5.79,"v":95},{"p":20,"t":5.82,"v":100},{"p":20,"t":5.87,"v":88},{"p":20,"t":5.93,"v":50},{"p":20,"t":6.0,"v":18},{"p":20,"t":6.05,"v":10},{"p":20,"t":6.1,"v":15},{"p":20,"t":6.17,"v":50},{"p":20,"t":6.24,"v":85},{"p":20,"t":6.3,"v":92},{"p":20,"t":6.36,"v":84},{"p":20,"t":6.44,"v":55},{"p":20,"t":6.52,"v":25},{"p":20,"t":6.62,"v":10},{"p":20,"t":6.75,"v":5},{"p":20,"t":6.95,"v":3},{"p":20,"t":7.2,"v":2.0},{"p":20,"t":7.6,"v":1.3},{"p":20,"t":8.0,"v":1.0},{"p":20,"t":8.5,"v":0.8},{"p":20,"t":9.0,"v":0.6},{"p":20,"t":9.5,"v":0.7},{"p":20,"t":10.0,"v":0.5},{"p":20,"t":10.5,"v":0.6},{"p":20,"t":11.0,"v":0.5},{"p":20,"t":11.5,"v":0.4},{"p":20,"t":11.9,"v":0.5},
{"p":21,"t":3.9,"v":1.0},{"p":21,"t":4.3,"v":1.2},{"p":21,"t":4.7,"v":0.9},{"p":21,"t":5.1,"v":1.1},{"p":21,"t":5.5,"v":0.9},{"p":21,"t":5.9,"v":1.2},{"p":21,"t":6.3,"v":1.0},{"p":21,"t":6.7,"v":1.3},{"p":21,"t":6.85,"v":3},{"p":21,"t":6.95,"v":15},{"p":21,"t":7.05,"v":50},{"p":21,"t":7.13,"v":85},{"p":21,"t":7.18,"v":97},{"p":21,"t":7.22,"v":100},{"p":21,"t":7.27,"v":92},{"p":21,"t":7.35,"v":65},{"p":21,"t":7.45,"v":30},{"p":21,"t":7.55,"v":10},{"p":21,"t":7.65,"v":5},{"p":21,"t":7.75,"v":6},{"p":21,"t":7.85,"v":20},{"p":21,"t":7.95,"v":45},{"p":21,"t":8.05,"v":65},{"p":21,"t":8.12,"v":71},{"p":21,"t":8.16,"v":72},{"p":21,"t":8.22,"v":68},{"p":21,"t":8.32,"v":50},{"p":21,"t":8.45,"v":25},{"p":21,"t":8.6,"v":13},{"p":21,"t":8.75,"v":9},{"p":21,"t":8.9,"v":7},{"p":21,"t":9.1,"v":5},{"p":21,"t":9.3,"v":3.5},{"p":21,"t":9.5,"v":2.5},{"p":21,"t":9.7,"v":1.5},{"p":21,"t":10.0,"v":1.2},{"p":21,"t":10.5,"v":1.3},{"p":21,"t":11.0,"v":1.1},{"p":21,"t":11.5,"v":1.3},{"p":21,"t":12.0,"v":1.1},{"p":21,"t":12.5,"v":1.2},{"p":21,"t":13.0,"v":1.0},{"p":21,"t":13.5,"v":1.2},{"p":21,"t":14.0,"v":1.1},{"p":21,"t":14.3,"v":1.2},
{"p":22,"t":1.9,"v":0.5},{"p":22,"t":2.4,"v":0.6},{"p":22,"t":2.9,"v":0.4},{"p":22,"t":3.4,"v":0.6},{"p":22,"t":3.9,"v":0.5},{"p":22,"t":4.3,"v":0.8},{"p":22,"t":4.45,"v":2.5},{"p":22,"t":4.52,"v":15},{"p":22,"t":4.58,"v":60},{"p":22,"t":4.62,"v":92},{"p":22,"t":4.65,"v":100},{"p":22,"t":4.7,"v":85},{"p":22,"t":4.76,"v":45},{"p":22,"t":4.84,"v":15},{"p":22,"t":4.92,"v":6},{"p":22,"t":5.0,"v":5},{"p":22,"t":5.08,"v":15},{"p":22,"t":5.15,"v":50},{"p":22,"t":5.23,"v":80},{"p":22,"t":5.3,"v":87},{"p":22,"t":5.36,"v":80},{"p":22,"t":5.44,"v":55},{"p":22,"t":5.53,"v":28},{"p":22,"t":5.62,"v":14},{"p":22,"t":5.75,"v":8},{"p":22,"t":5.9,"v":5},{"p":22,"t":6.1,"v":3.5},{"p":22,"t":6.4,"v":2.2},{"p":22,"t":6.8,"v":1.5},{"p":22,"t":7.3,"v":1.0},{"p":22,"t":7.8,"v":0.8},{"p":22,"t":8.3,"v":0.6},{"p":22,"t":8.8,"v":0.5},{"p":22,"t":9.3,"v":0.6},{"p":22,"t":9.8,"v":0.5},{"p":22,"t":10.3,"v":0.5},
{"p":23,"t":4.0,"v":1.0},{"p":23,"t":4.5,"v":1.3},{"p":23,"t":5.0,"v":0.9},{"p":23,"t":5.5,"v":1.2},{"p":23,"t":6.0,"v":1.0},{"p":23,"t":6.5,"v":1.3},{"p":23,"t":7.0,"v":1.1},{"p":23,"t":7.15,"v":2.5},{"p":23,"t":7.25,"v":15},{"p":23,"t":7.33,"v":60},{"p":23,"t":7.38,"v":92},{"p":23,"t":7.42,"v":100},{"p":23,"t":7.47,"v":90},{"p":23,"t":7.52,"v":72},{"p":23,"t":7.56,"v":70},{"p":23,"t":7.62,"v":45},{"p":23,"t":7.72,"v":20},{"p":23,"t":7.85,"v":9},{"p":23,"t":8.0,"v":5},{"p":23,"t":8.15,"v":4.5},{"p":23,"t":8.3,"v":8},{"p":23,"t":8.45,"v":25},{"p":23,"t":8.58,"v":50},{"p":23,"t":8.7,"v":68},{"p":23,"t":8.78,"v":74},{"p":23,"t":8.83,"v":75},{"p":23,"t":8.9,"v":72},{"p":23,"t":9.0,"v":60},{"p":23,"t":9.12,"v":40},{"p":23,"t":9.25,"v":22},{"p":23,"t":9.4,"v":12},{"p":23,"t":9.55,"v":7},{"p":23,"t":9.75,"v":4},{"p":23,"t":10.0,"v":2.8},{"p":23,"t":10.4,"v":2.0},{"p":23,"t":10.8,"v":1.5},{"p":23,"t":11.3,"v":1.2},{"p":23,"t":11.8,"v":1.0},{"p":23,"t":12.3,"v":1.1},{"p":23,"t":12.8,"v":0.9},{"p":23,"t":13.3,"v":1.0},{"p":23,"t":13.8,"v":0.9},{"p":23,"t":14.3,"v":1.0},{"p":23,"t":14.9,"v":0.9},
{"p":24,"t":1.2,"v":0.5},{"p":24,"t":1.6,"v":0.4},{"p":24,"t":2.0,"v":0.6},{"p":24,"t":2.4,"v":0.5},{"p":24,"t":2.8,"v":0.4},{"p":24,"t":3.2,"v":0.6},{"p":24,"t":3.3,"v":1.5},{"p":24,"t":3.36,"v":15},{"p":24,"t":3.41,"v":70},{"p":24,"t":3.45,"v":100},{"p":24,"t":3.49,"v":80},{"p":24,"t":3.55,"v":30},{"p":24,"t":3.62,"v":8},{"p":24,"t":3.7,"v":2},{"p":24,"t":3.8,"v":1.5},{"p":24,"t":3.9,"v":3},{"p":24,"t":3.96,"v":20},{"p":24,"t":4.02,"v":70},{"p":24,"t":4.08,"v":88},{"p":24,"t":4.13,"v":72},{"p":24,"t":4.19,"v":35},{"p":24,"t":4.27,"v":12},{"p":24,"t":4.36,"v":5},{"p":24,"t":4.5,"v":2.5},{"p":24,"t":4.7,"v":1.5},{"p":24,"t":5.0,"v":1.0},{"p":24,"t":5.5,"v":0.7},{"p":24,"t":6.0,"v":0.6},{"p":24,"t":6.5,"v":0.5},{"p":24,"t":7.0,"v":0.6},{"p":24,"t":7.5,"v":0.5},{"p":24,"t":8.0,"v":0.4},{"p":24,"t":8.5,"v":0.5},{"p":24,"t":9.2,"v":0.5},
{"p":25,"t":1.25,"v":0.8},{"p":25,"t":1.6,"v":1.0},{"p":25,"t":2.0,"v":0.6},{"p":25,"t":2.4,"v":0.9},{"p":25,"t":2.8,"v":0.7},{"p":25,"t":3.2,"v":1.0},{"p":25,"t":3.6,"v":0.7},{"p":25,"t":4.0,"v":1.0},{"p":25,"t":4.1,"v":2.0},{"p":25,"t":4.17,"v":20},{"p":25,"t":4.22,"v":75},{"p":25,"t":4.26,"v":100},{"p":25,"t":4.3,"v":85},{"p":25,"t":4.36,"v":40},{"p":25,"t":4.44,"v":12},{"p":25,"t":4.55,"v":4},{"p":25,"t":4.7,"v":1.5},{"p":25,"t":4.85,"v":1.2},{"p":25,"t":5.0,"v":2},{"p":25,"t":5.08,"v":15},{"p":25,"t":5.15,"v":55},{"p":25,"t":5.2,"v":80},{"p":25,"t":5.24,"v":85},{"p":25,"t":5.29,"v":75},{"p":25,"t":5.36,"v":40},{"p":25,"t":5.45,"v":13},{"p":25,"t":5.55,"v":5},{"p":25,"t":5.7,"v":2.5},{"p":25,"t":5.9,"v":1.5},{"p":25,"t":6.3,"v":1.0},{"p":25,"t":6.8,"v":0.8},{"p":25,"t":7.3,"v":0.9},{"p":25,"t":7.8,"v":0.7},{"p":25,"t":8.3,"v":0.8},{"p":25,"t":8.8,"v":0.7},
{"p":26,"t":1.3,"v":0.5},{"p":26,"t":1.8,"v":0.6},{"p":26,"t":2.3,"v":0.4},{"p":26,"t":2.8,"v":0.6},{"p":26,"t":3.3,"v":0.5},{"p":26,"t":3.8,"v":0.6},{"p":26,"t":4.1,"v":0.8},{"p":26,"t":4.17,"v":5},{"p":26,"t":4.22,"v":40},{"p":26,"t":4.26,"v":85},{"p":26,"t":4.3,"v":100},{"p":26,"t":4.34,"v":85},{"p":26,"t":4.4,"v":45},{"p":26,"t":4.47,"v":18},{"p":26,"t":4.55,"v":8},{"p":26,"t":4.65,"v":4},{"p":26,"t":4.8,"v":2.0},{"p":26,"t":5.0,"v":1.2},{"p":26,"t":5.3,"v":0.8},{"p":26,"t":5.8,"v":0.6},{"p":26,"t":6.3,"v":0.5},{"p":26,"t":6.8,"v":0.6},{"p":26,"t":7.3,"v":0.5},{"p":26,"t":7.8,"v":0.6},{"p":26,"t":8.3,"v":0.5},{"p":26,"t":8.85,"v":0.5}
],
"A":[
{"p":1,"t":1.86,"v":8,"s":"c"},{"p":1,"t":3.34,"v":88,"s":"l"},{"p":1,"t":3.51,"v":102.5,"s":"c"},
{"p":2,"t":4.42,"v":102,"s":"l"},{"p":2,"t":4.92,"v":102.5,"s":"c"},
{"p":3,"t":8.03,"v":11,"s":"r"},{"p":3,"t":11.91,"v":102.5,"s":"c"},{"p":3,"t":11.95,"v":97,"s":"r"},{"p":3,"t":12.09,"v":81,"s":"r"},{"p":3,"t":15.27,"v":29,"s":"l"},{"p":3,"t":15.52,"v":44,"s":"l"},{"p":3,"t":15.62,"v":52,"s":"l"},{"p":3,"t":15.9,"v":59,"s":"c"},{"p":3,"t":16.14,"v":53,"s":"r"},{"p":3,"t":16.23,"v":47,"s":"r"},{"p":3,"t":16.44,"v":41,"s":"r"},{"p":3,"t":16.54,"v":36,"s":"r"},{"p":3,"t":16.69,"v":31,"s":"r"},{"p":3,"t":17.42,"v":19.5,"s":"r"},
{"p":4,"t":5.16,"v":102.5,"s":"c"},{"p":4,"t":8.61,"v":55,"s":"c"},
{"p":5,"t":13.42,"v":102.5,"s":"c"},{"p":5,"t":15.01,"v":83.5,"s":"c"},{"p":5,"t":15.09,"v":78,"s":"r"},{"p":5,"t":15.12,"v":71,"s":"r"},{"p":5,"t":15.52,"v":26,"s":"r"},
{"p":6,"t":8.8,"v":7.5,"s":"c"},{"p":6,"t":12.9,"v":96,"s":"l"},{"p":6,"t":13.0,"v":102.5,"s":"c"},{"p":6,"t":13.12,"v":80,"s":"r"},{"p":6,"t":18.12,"v":43,"s":"l"},{"p":6,"t":18.32,"v":52,"s":"c"},{"p":6,"t":19.23,"v":25,"s":"r"},
{"p":7,"t":6.45,"v":101,"s":"l"},{"p":7,"t":7.3,"v":86,"s":"c"},
{"p":8,"t":9.25,"v":102.5,"s":"c"},{"p":8,"t":11.9,"v":73.5,"s":"c"},{"p":8,"t":12.3,"v":17.5,"s":"r"},
{"p":9,"t":7.17,"v":102.5,"s":"c"},{"p":9,"t":7.78,"v":85,"s":"c"},
{"p":10,"t":5.8,"v":102.5,"s":"c"},{"p":10,"t":7.5,"v":80,"s":"c"},
{"p":11,"t":10.15,"v":8.5,"s":"r"},{"p":11,"t":12.57,"v":102.5,"s":"c"},{"p":11,"t":13.91,"v":95,"s":"c"},{"p":11,"t":13.99,"v":78,"s":"r"},{"p":11,"t":14.11,"v":49,"s":"r"},{"p":11,"t":15.22,"v":10,"s":"r"},{"p":11,"t":17.89,"v":6.5,"s":"c"},{"p":11,"t":18.59,"v":8.5,"s":"r"},{"p":11,"t":22.35,"v":6.5,"s":"l"},{"p":11,"t":22.98,"v":6.5,"s":"r"},
{"p":12,"t":1.1,"v":10.8,"s":"r"},{"p":12,"t":2.85,"v":9,"s":"l"},{"p":12,"t":3.39,"v":8.5,"s":"c"},{"p":12,"t":3.83,"v":8.5,"s":"r"},{"p":12,"t":4.55,"v":78.5,"s":"l"},{"p":12,"t":4.59,"v":102.5,"s":"c"},{"p":12,"t":5.4,"v":67,"s":"l"},{"p":12,"t":5.51,"v":78.5,"s":"c"},{"p":12,"t":5.83,"v":16,"s":"r"},{"p":12,"t":6.9,"v":8.5,"s":"l"},{"p":12,"t":7.29,"v":7,"s":"c"},{"p":12,"t":8.56,"v":6,"s":"l"},{"p":12,"t":8.83,"v":7,"s":"c"},{"p":12,"t":9.57,"v":7.5,"s":"c"},
{"p":13,"t":10.01,"v":8,"s":"r"},{"p":13,"t":14.12,"v":6.5,"s":"c"},{"p":13,"t":15.72,"v":102.5,"s":"c"},{"p":13,"t":15.57,"v":87,"s":"l"},{"p":13,"t":16.0,"v":74,"s":"r"},{"p":13,"t":16.04,"v":67,"s":"r"},{"p":13,"t":15.48,"v":62,"s":"l"},{"p":13,"t":16.09,"v":58,"s":"r"},{"p":13,"t":16.15,"v":48,"s":"r"},{"p":13,"t":15.3,"v":33.5,"s":"l"},{"p":13,"t":16.24,"v":34,"s":"r"},{"p":13,"t":16.3,"v":27,"s":"r"},{"p":13,"t":15.24,"v":21,"s":"l"},{"p":13,"t":16.43,"v":21,"s":"r"},{"p":13,"t":23.55,"v":74,"s":"c"},{"p":13,"t":23.43,"v":66,"s":"l"},{"p":13,"t":23.6,"v":65,"s":"r"},{"p":13,"t":23.28,"v":57,"s":"l"},{"p":13,"t":23.87,"v":56,"s":"r"},{"p":13,"t":23.19,"v":51.5,"s":"l"},{"p":13,"t":24.11,"v":41,"s":"r"},{"p":13,"t":23.13,"v":38.5,"s":"l"},{"p":13,"t":24.2,"v":33.5,"s":"r"},{"p":13,"t":23.02,"v":30,"s":"l"},{"p":13,"t":24.34,"v":26,"s":"r"},{"p":13,"t":22.92,"v":21,"s":"l"},{"p":13,"t":24.54,"v":20,"s":"r"},{"p":13,"t":24.72,"v":12,"s":"r"},
{"p":14,"t":3.8,"v":102.5,"s":"c"},{"p":14,"t":4.44,"v":90.5,"s":"c"},{"p":14,"t":5.4,"v":8.5,"s":"c"},
{"p":15,"t":4.59,"v":102.5,"s":"c"},{"p":15,"t":5.96,"v":92.5,"s":"c"},
{"p":16,"t":13.56,"v":102.5,"s":"c"},{"p":16,"t":13.67,"v":77,"s":"r"},{"p":16,"t":18.18,"v":72.5,"s":"l"},{"p":16,"t":18.31,"v":83.5,"s":"c"},{"p":16,"t":18.73,"v":26,"s":"r"},
{"p":17,"t":8.03,"v":102.5,"s":"c"},{"p":17,"t":8.98,"v":90,"s":"c"},
{"p":18,"t":10.19,"v":79,"s":"c"},{"p":18,"t":11.16,"v":96,"s":"l"},{"p":18,"t":11.21,"v":102.5,"s":"c"},{"p":18,"t":11.31,"v":77.5,"s":"r"},
{"p":19,"t":5.47,"v":103,"s":"c"},{"p":19,"t":5.86,"v":97,"s":"c"},
{"p":20,"t":5.82,"v":102.5,"s":"c"},{"p":20,"t":6.3,"v":95,"s":"c"},
{"p":21,"t":7.22,"v":102.5,"s":"c"},{"p":21,"t":8.16,"v":75,"s":"c"},
{"p":22,"t":4.65,"v":102.5,"s":"c"},{"p":22,"t":5.3,"v":89.5,"s":"c"},
{"p":23,"t":7.42,"v":102.5,"s":"c"},{"p":23,"t":8.83,"v":78,"s":"c"},
{"p":24,"t":3.45,"v":102.5,"s":"c"},{"p":24,"t":4.08,"v":90.5,"s":"c"},
{"p":25,"t":4.26,"v":102.5,"s":"c"},{"p":25,"t":5.24,"v":87.5,"s":"c"},
{"p":26,"t":4.3,"v":102.5,"s":"c"}
]
},
"columns":7,
"spacing":{"row":40,"column":46},
"bounds":"flush",
"concat":[
{"title":{"text":"240.2 > 205.2 (Hydroxyibuprofen)","subtitle":"3.16e6"},"encoding":{"x":{"field":"t","type":"quantitative","title":"Time","scale":{"domain":[1,10],"nice":false,"zero":false},"axis":{"tickCount":45,"labelExpr":"datum.value%2==0&&datum.value>1.5&&datum.value<9.5?format(datum.value,'.2f'):''"}},"y":{"field":"v","type":"quantitative","title":"%","scale":{"domain":[0,100],"nice":false},"axis":{"tickCount":10,"labelExpr":"datum.value==0||datum.value==100?datum.label:''"}}},"layer":[{"data":{"name":"L"},"transform":[{"filter":"datum.p==1"}],"mark":"line","encoding":{}},{"data":{"name":"A"},"transform":[{"filter":"datum.p==1&&datum.s=='c'"}],"mark":{"type":"text","style":"pc"},"encoding":{"text":{"field":"t","type":"quantitative","format":".2f"}}},{"data":{"name":"A"},"transform":[{"filter":"datum.p==1&&datum.s=='l'"}],"mark":{"type":"text","style":"pl"},"encoding":{"text":{"field":"t","type":"quantitative","format":".2f"}}}]},
{"title":{"text":"231.2 > 170.2 (Naproxen)","subtitle":"1.28e6"},"encoding":{"x":{"field":"t","type":"quantitative","title":"Time","scale":{"domain":[1,10],"nice":false,"zero":false},"axis":{"tickCount":45,"labelExpr":"datum.value%2==0&&datum.value>1.5&&datum.value<9.5?format(datum.value,'.2f'):''"}},"y":{"field":"v","type":"quantitative","title":"%","scale":{"domain":[0,100],"nice":false},"axis":{"tickCount":10,"labelExpr":"datum.value==0||datum.value==100?datum.label:''"}}},"layer":[{"data":{"name":"L"},"transform":[{"filter":"datum.p==2"}],"mark":"line","encoding":{}},{"data":{"name":"A"},"transform":[{"filter":"datum.p==2&&datum.s=='c'"}],"mark":{"type":"text","style":"pc"},"encoding":{"text":{"field":"t","type":"quantitative","format":".2f"}}},{"data":{"name":"A"},"transform":[{"filter":"datum.p==2&&datum.s=='l'"}],"mark":{"type":"text","style":"pl"},"encoding":{"text":{"field":"t","type":"quantitative","format":".2f"}}}]},
{"title":{"text":"307.2 > 289.2 (alpha-Hydroxy Trimethoprim)","subtitle":"2.38e6"},"encoding":{"x":{"field":"t","type":"quantitative","title":"Time","scale":{"domain":[8,24],"nice":false,"zero":false},"axis":{"tickCount":32,"labelExpr":"datum.value%5==0&&datum.value>9&&datum.value<23?format(datum.value,'.2f'):''"}},"y":{"field":"v","type":"quantitative","title":"%","scale":{"domain":[0,100],"nice":false},"axis":{"tickCount":10,"labelExpr":"datum.value==0||datum.value==100?datum.label:''"}}},"layer":[{"data":{"name":"L"},"transform":[{"filter":"datum.p==3"}],"mark":"line","encoding":{}},{"data":{"name":"A"},"transform":[{"filter":"datum.p==3&&datum.s=='c'"}],"mark":{"type":"text","style":"pc"},"encoding":{"text":{"field":"t","type":"quantitative","format":".2f"}}},{"data":{"name":"A"},"transform":[{"filter":"datum.p==3&&datum.s=='l'"}],"mark":{"type":"text","style":"pl"},"encoding":{"text":{"field":"t","type":"quantitative","format":".2f"}}},{"data":{"name":"A"},"transform":[{"filter":"datum.p==3&&datum.s=='r'"}],"mark":{"type":"text","style":"pr"},"encoding":{"text":{"field":"t","type":"quantitative","format":".2f"}}}]},
{"title":{"text":"309.1 > 163.1 (Warfarin)","subtitle":"1.91e7"},"encoding":{"x":{"field":"t","type":"quantitative","title":"Time","scale":{"domain":[2,12],"nice":false,"zero":false},"axis":{"tickCount":50,"labelExpr":"datum.value%2==0&&datum.value>3&&datum.value<11?format(datum.value,'.2f'):''"}},"y":{"field":"v","type":"quantitative","title":"%","scale":{"domain":[0,100],"nice":false},"axis":{"tickCount":10,"labelExpr":"datum.value==0||datum.value==100?datum.label:''"}}},"layer":[{"data":{"name":"L"},"transform":[{"filter":"datum.p==4"}],"mark":"line","encoding":{}},{"data":{"name":"A"},"transform":[{"filter":"datum.p==4&&datum.s=='c'"}],"mark":{"type":"text","style":"pc"},"encoding":{"text":{"field":"t","type":"quantitative","format":".2f"}}}]},
{"title":{"text":"325.2 > 262.2 (Citalopram)","subtitle":"1.90e6"},"encoding":{"x":{"field":"t","type":"quantitative","title":"Time","scale":{"domain":[9.5,24.5],"nice":false,"zero":false},"axis":{"tickCount":30,"labelExpr":"datum.value%2.5==0&&datum.value>12&&datum.value<23?format(datum.value,'.2f'):''"}},"y":{"field":"v","type":"quantitative","title":"%","scale":{"domain":[0,100],"nice":false},"axis":{"tickCount":10,"labelExpr":"datum.value==0||datum.value==100?datum.label:''"}}},"layer":[{"data":{"name":"L"},"transform":[{"filter":"datum.p==5"}],"mark":"line","encoding":{}},{"data":{"name":"A"},"transform":[{"filter":"datum.p==5&&datum.s=='c'"}],"mark":{"type":"text","style":"pc"},"encoding":{"text":{"field":"t","type":"quantitative","format":".2f"}}},{"data":{"name":"A"},"transform":[{"filter":"datum.p==5&&datum.s=='r'"}],"mark":{"type":"text","style":"pr"},"encoding":{"text":{"field":"t","type":"quantitative","format":".2f"}}}]},
{"title":{"text":"311.2 > 109.1 (Desmethylcitalopram)","subtitle":"5.29e6"},"encoding":{"x":{"field":"t","type":"quantitative","title":"Time","scale":{"domain":[8.1,25.2],"nice":false,"zero":false},"axis":{"tickCount":34,"labelExpr":"datum.value%5==0&&datum.value>9&&datum.value<24?format(datum.value,'.2f'):''"}},"y":{"field":"v","type":"quantitative","title":"%","scale":{"domain":[0,100],"nice":false},"axis":{"tickCount":10,"labelExpr":"datum.value==0||datum.value==100?datum.label:''"}}},"layer":[{"data":{"name":"L"},"transform":[{"filter":"datum.p==6"}],"mark":"line","encoding":{}},{"data":{"name":"A"},"transform":[{"filter":"datum.p==6&&datum.s=='c'"}],"mark":{"type":"text","style":"pc"},"encoding":{"text":{"field":"t","type":"quantitative","format":".2f"}}},{"data":{"name":"A"},"transform":[{"filter":"datum.p==6&&datum.s=='l'"}],"mark":{"type":"text","style":"pl"},"encoding":{"text":{"field":"t","type":"quantitative","format":".2f"}}},{"data":{"name":"A"},"transform":[{"filter":"datum.p==6&&datum.s=='r'"}],"mark":{"type":"text","style":"pr"},"encoding":{"text":{"field":"t","type":"quantitative","format":".2f"}}}]},
{"title":{"text":"264.3 > 246.3 (Desmethylvenlafaxine)","subtitle":"2.31e7"},"encoding":{"x":{"field":"t","type":"quantitative","title":"Time","scale":{"domain":[2,12.1],"nice":false,"zero":false},"axis":{"tickCount":50,"labelExpr":"datum.value%2==0&&datum.value>3&&datum.value<11?format(datum.value,'.2f'):''"}},"y":{"field":"v","type":"quantitative","title":"%","scale":{"domain":[0,100],"nice":false},"axis":{"tickCount":10,"labelExpr":"datum.value==0||datum.value==100?datum.label:''"}}},"layer":[{"data":{"name":"L"},"transform":[{"filter":"datum.p==7"}],"mark":"line","encoding":{}},{"data":{"name":"A"},"transform":[{"filter":"datum.p==7&&datum.s=='c'"}],"mark":{"type":"text","style":"pc"},"encoding":{"text":{"field":"t","type":"quantitative","format":".2f"}}},{"data":{"name":"A"},"transform":[{"filter":"datum.p==7&&datum.s=='l'"}],"mark":{"type":"text","style":"pl"},"encoding":{"text":{"field":"t","type":"quantitative","format":".2f"}}}]},
{"title":{"text":"310.2 > 44.1 (Fluoxetine)","subtitle":"5.04e5"},"encoding":{"x":{"field":"t","type":"quantitative","title":"Time","scale":{"domain":[6,18],"nice":false,"zero":false},"axis":{"tickCount":60,"labelExpr":"datum.value%2==0&&datum.value>7&&datum.value<17?format(datum.value,'.2f'):''"}},"y":{"field":"v","type":"quantitative","title":"%","scale":{"domain":[0,100],"nice":false},"axis":{"tickCount":10,"labelExpr":"datum.value==0||datum.value==100?datum.label:''"}}},"layer":[{"data":{"name":"L"},"transform":[{"filter":"datum.p==8"}],"mark":"line","encoding":{}},{"data":{"name":"A"},"transform":[{"filter":"datum.p==8&&datum.s=='c'"}],"mark":{"type":"text","style":"pc"},"encoding":{"text":{"field":"t","type":"quantitative","format":".2f"}}},{"data":{"name":"A"},"transform":[{"filter":"datum.p==8&&datum.s=='r'"}],"mark":{"type":"text","style":"pr"},"encoding":{"text":{"field":"t","type":"quantitative","format":".2f"}}}]},
{"title":{"text":"278.3 > 260.3 (Venlafaxine)","subtitle":"9.42e6"},"encoding":{"x":{"field":"t","type":"quantitative","title":"Time","scale":{"domain":[3.6,13.7],"nice":false,"zero":false},"axis":{"tickCount":50,"labelExpr":"datum.value%2==0&&datum.value>5&&datum.value<13?format(datum.value,'.2f'):''"}},"y":{"field":"v","type":"quantitative","title":"%","scale":{"domain":[0,100],"nice":false},"axis":{"tickCount":10,"labelExpr":"datum.value==0||datum.value==100?datum.label:''"}}},"layer":[{"data":{"name":"L"},"transform":[{"filter":"datum.p==9"}],"mark":"line","encoding":{}},{"data":{"name":"A"},"transform":[{"filter":"datum.p==9&&datum.s=='c'"}],"mark":{"type":"text","style":"pc"},"encoding":{"text":{"field":"t","type":"quantitative","format":".2f"}}}]},
{"title":{"text":"293.1 > 69.2 (Climbazole)","subtitle":"2.16e7"},"encoding":{"x":{"field":"t","type":"quantitative","title":"Time","scale":{"domain":[0.8,10],"nice":false,"zero":false},"axis":{"tickCount":46,"labelExpr":"datum.value%2==0&&datum.value>1&&datum.value<9?format(datum.value,'.2f'):''"}},"y":{"field":"v","type":"quantitative","title":"%","scale":{"domain":[0,100],"nice":false},"axis":{"tickCount":10,"labelExpr":"datum.value==0||datum.value==100?datum.label:''"}}},"layer":[{"data":{"name":"L"},"transform":[{"filter":"datum.p==10"}],"mark":"line","encoding":{}},{"data":{"name":"A"},"transform":[{"filter":"datum.p==10&&datum.s=='c'"}],"mark":{"type":"text","style":"pc"},"encoding":{"text":{"field":"t","type":"quantitative","format":".2f"}}}]},
{"title":{"text":"275.2 > 230.1 (Chlorpheniramine)","subtitle":"6.03e5"},"encoding":{"x":{"field":"t","type":"quantitative","title":"Time","scale":{"domain":[9.8,25.2],"nice":false,"zero":false},"axis":{"tickCount":31,"labelExpr":"datum.value%2.5==0&&datum.value>12&&datum.value<23?format(datum.value,'.2f'):''"}},"y":{"field":"v","type":"quantitative","title":"%","scale":{"domain":[0,100],"nice":false},"axis":{"tickCount":10,"labelExpr":"datum.value==0||datum.value==100?datum.label:''"}}},"layer":[{"data":{"name":"L"},"transform":[{"filter":"datum.p==11"}],"mark":"line","encoding":{}},{"data":{"name":"A"},"transform":[{"filter":"datum.p==11&&datum.s=='c'"}],"mark":{"type":"text","style":"pc"},"encoding":{"text":{"field":"t","type":"quantitative","format":".2f"}}},{"data":{"name":"A"},"transform":[{"filter":"datum.p==11&&datum.s=='l'"}],"mark":{"type":"text","style":"pl"},"encoding":{"text":{"field":"t","type":"quantitative","format":".2f"}}},{"data":{"name":"A"},"transform":[{"filter":"datum.p==11&&datum.s=='r'"}],"mark":{"type":"text","style":"pr"},"encoding":{"text":{"field":"t","type":"quantitative","format":".2f"}}}]},
{"title":{"text":"370.1 > 252.1 (Lansoprazole)","subtitle":"1.09e5"},"encoding":{"x":{"field":"t","type":"quantitative","title":"Time","scale":{"domain":[0.9,10],"nice":false,"zero":false},"axis":{"tickCount":45,"labelExpr":"datum.value%2==0&&datum.value>1&&datum.value<9?format(datum.value,'.2f'):''"}},"y":{"field":"v","type":"quantitative","title":"%","scale":{"domain":[0,100],"nice":false},"axis":{"tickCount":10,"labelExpr":"datum.value==0||datum.value==100?datum.label:''"}}},"layer":[{"data":{"name":"L"},"transform":[{"filter":"datum.p==12"}],"mark":"line","encoding":{}},{"data":{"name":"A"},"transform":[{"filter":"datum.p==12&&datum.s=='c'"}],"mark":{"type":"text","style":"pc"},"encoding":{"text":{"field":"t","type":"quantitative","format":".2f"}}},{"data":{"name":"A"},"transform":[{"filter":"datum.p==12&&datum.s=='l'"}],"mark":{"type":"text","style":"pl"},"encoding":{"text":{"field":"t","type":"quantitative","format":".2f"}}},{"data":{"name":"A"},"transform":[{"filter":"datum.p==12&&datum.s=='r'"}],"mark":{"type":"text","style":"pr"},"encoding":{"text":{"field":"t","type":"quantitative","format":".2f"}}}]},
{"title":{"text":"346.2 > 198.1 (Omeprazole)","subtitle":"1.55e5"},"encoding":{"x":{"field":"t","type":"quantitative","title":"Time","scale":{"domain":[9.9,29],"nice":false,"zero":false},"axis":{"tickCount":38,"labelExpr":"datum.value%5==0&&datum.value>12&&datum.value<27?format(datum.value,'.2f'):''"}},"y":{"field":"v","type":"quantitative","title":"%","scale":{"domain":[0,100],"nice":false},"axis":{"tickCount":10,"labelExpr":"datum.value==0||datum.value==100?datum.label:''"}}},"layer":[{"data":{"name":"L"},"transform":[{"filter":"datum.p==13"}],"mark":"line","encoding":{}},{"data":{"name":"A"},"transform":[{"filter":"datum.p==13&&datum.s=='c'"}],"mark":{"type":"text","style":"pc"},"encoding":{"text":{"field":"t","type":"quantitative","format":".2f"}}},{"data":{"name":"A"},"transform":[{"filter":"datum.p==13&&datum.s=='l'"}],"mark":{"type":"text","style":"pl"},"encoding":{"text":{"field":"t","type":"quantitative","format":".2f"}}},{"data":{"name":"A"},"transform":[{"filter":"datum.p==13&&datum.s=='r'"}],"mark":{"type":"text","style":"pr"},"encoding":{"text":{"field":"t","type":"quantitative","format":".2f"}}}]},
{"title":{"text":"321.1 > 275.1 (Lorazepam)","subtitle":"1.23e6"},"encoding":{"x":{"field":"t","type":"quantitative","title":"Time","scale":{"domain":[0.9,10],"nice":false,"zero":false},"axis":{"tickCount":45,"labelExpr":"datum.value%2==0&&datum.value>1&&datum.value<9?format(datum.value,'.2f'):''"}},"y":{"field":"v","type":"quantitative","title":"%","scale":{"domain":[0,100],"nice":false},"axis":{"tickCount":10,"labelExpr":"datum.value==0||datum.value==100?datum.label:''"}}},"layer":[{"data":{"name":"L"},"transform":[{"filter":"datum.p==14"}],"mark":"line","encoding":{}},{"data":{"name":"A"},"transform":[{"filter":"datum.p==14&&datum.s=='c'"}],"mark":{"type":"text","style":"pc"},"encoding":{"text":{"field":"t","type":"quantitative","format":".2f"}}}]},
{"title":{"text":"287.1 > 241.1 (Oxazepam)","subtitle":"1.53e6"},"encoding":{"x":{"field":"t","type":"quantitative","title":"Time","scale":{"domain":[0.9,10],"nice":false,"zero":false},"axis":{"tickCount":45,"labelExpr":"datum.value%2==0&&datum.value>1&&datum.value<9?format(datum.value,'.2f'):''"}},"y":{"field":"v","type":"quantitative","title":"%","scale":{"domain":[0,100],"nice":false},"axis":{"tickCount":10,"labelExpr":"datum.value==0||datum.value==100?datum.label:''"}}},"layer":[{"data":{"name":"L"},"transform":[{"filter":"datum.p==15"}],"mark":"line","encoding":{}},{"data":{"name":"A"},"transform":[{"filter":"datum.p==15&&datum.s=='c'"}],"mark":{"type":"text","style":"pc"},"encoding":{"text":{"field":"t","type":"quantitative","format":".2f"}}}]},
{"title":{"text":"301.1 > 255.2 (Temazepam)","subtitle":"3.84e6"},"encoding":{"x":{"field":"t","type":"quantitative","title":"Time","scale":{"domain":[9.5,25.6],"nice":false,"zero":false},"axis":{"tickCount":32,"labelExpr":"datum.value%2.5==0&&datum.value>12&&datum.value<23?format(datum.value,'.2f'):''"}},"y":{"field":"v","type":"quantitative","title":"%","scale":{"domain":[0,100],"nice":false},"axis":{"tickCount":10,"labelExpr":"datum.value==0||datum.value==100?datum.label:''"}}},"layer":[{"data":{"name":"L"},"transform":[{"filter":"datum.p==16"}],"mark":"line","encoding":{}},{"data":{"name":"A"},"transform":[{"filter":"datum.p==16&&datum.s=='c'"}],"mark":{"type":"text","style":"pc"},"encoding":{"text":{"field":"t","type":"quantitative","format":".2f"}}},{"data":{"name":"A"},"transform":[{"filter":"datum.p==16&&datum.s=='l'"}],"mark":{"type":"text","style":"pl"},"encoding":{"text":{"field":"t","type":"quantitative","format":".2f"}}},{"data":{"name":"A"},"transform":[{"filter":"datum.p==16&&datum.s=='r'"}],"mark":{"type":"text","style":"pr"},"encoding":{"text":{"field":"t","type":"quantitative","format":".2f"}}}]},
{"title":{"text":"337.3 > 116.2 (Acebutolol)","subtitle":"1.29e7"},"encoding":{"x":{"field":"t","type":"quantitative","title":"Time","scale":{"domain":[4.9,15.1],"nice":false,"zero":false},"axis":{"tickCount":51,"labelExpr":"datum.value%2==0&&datum.value>5&&datum.value<15?format(datum.value,'.2f'):''"}},"y":{"field":"v","type":"quantitative","title":"%","scale":{"domain":[0,100],"nice":false},"axis":{"tickCount":10,"labelExpr":"datum.value==0||datum.value==100?datum.label:''"}}},"layer":[{"data":{"name":"L"},"transform":[{"filter":"datum.p==17"}],"mark":"line","encoding":{}},{"data":{"name":"A"},"transform":[{"filter":"datum.p==17&&datum.s=='c'"}],"mark":{"type":"text","style":"pc"},"encoding":{"text":{"field":"t","type":"quantitative","format":".2f"}}}]},
{"title":{"text":"267.3 > 190.1 (Atenolol)","subtitle":"1.92e6"},"encoding":{"x":{"field":"t","type":"quantitative","title":"Time","scale":{"domain":[5,15],"nice":false,"zero":false},"axis":{"tickCount":50,"labelExpr":"datum.value%2==0&&datum.value>5.5&&datum.value<14.5?format(datum.value,'.2f'):''"}},"y":{"field":"v","type":"quantitative","title":"%","scale":{"domain":[0,100],"nice":false},"axis":{"tickCount":10,"labelExpr":"datum.value==0||datum.value==100?datum.label:''"}}},"layer":[{"data":{"name":"L"},"transform":[{"filter":"datum.p==18"}],"mark":"line","encoding":{}},{"data":{"name":"A"},"transform":[{"filter":"datum.p==18&&datum.s=='c'"}],"mark":{"type":"text","style":"pc"},"encoding":{"text":{"field":"t","type":"quantitative","format":".2f"}}},{"data":{"name":"A"},"transform":[{"filter":"datum.p==18&&datum.s=='l'"}],"mark":{"type":"text","style":"pl"},"encoding":{"text":{"field":"t","type":"quantitative","format":".2f"}}},{"data":{"name":"A"},"transform":[{"filter":"datum.p==18&&datum.s=='r'"}],"mark":{"type":"text","style":"pr"},"encoding":{"text":{"field":"t","type":"quantitative","format":".2f"}}}]},
{"title":{"text":"326.3 > 116.2 (Bisoprolol)","subtitle":"5.73e7"},"encoding":{"x":{"field":"t","type":"quantitative","title":"Time","scale":{"domain":[1.8,11.7],"nice":false,"zero":false},"axis":{"tickCount":50,"labelExpr":"datum.value%2==0&&datum.value>3&&datum.value<11?format(datum.value,'.2f'):''"}},"y":{"field":"v","type":"quantitative","title":"%","scale":{"domain":[0,100],"nice":false},"axis":{"tickCount":10,"labelExpr":"datum.value==0||datum.value==100?datum.label:''"}}},"layer":[{"data":{"name":"L"},"transform":[{"filter":"datum.p==19"}],"mark":"line","encoding":{}},{"data":{"name":"A"},"transform":[{"filter":"datum.p==19&&datum.s=='c'"}],"mark":{"type":"text","style":"pc"},"encoding":{"text":{"field":"t","type":"quantitative","format":".2f"}}}]},
{"title":{"text":"268.2 > 159.1 (Metoprolol)","subtitle":"2.72e6"},"encoding":{"x":{"field":"t","type":"quantitative","title":"Time","scale":{"domain":[2,12],"nice":false,"zero":false},"axis":{"tickCount":50,"labelExpr":"datum.value%2==0&&datum.value>3&&datum.value<11?format(datum.value,'.2f'):''"}},"y":{"field":"v","type":"quantitative","title":"%","scale":{"domain":[0,100],"nice":false},"axis":{"tickCount":10,"labelExpr":"datum.value==0||datum.value==100?datum.label:''"}}},"layer":[{"data":{"name":"L"},"transform":[{"filter":"datum.p==20"}],"mark":"line","encoding":{}},{"data":{"name":"A"},"transform":[{"filter":"datum.p==20&&datum.s=='c'"}],"mark":{"type":"text","style":"pc"},"encoding":{"text":{"field":"t","type":"quantitative","format":".2f"}}}]},
{"title":{"text":"260.2 > 116.1 (Propranolol)","subtitle":"5.60e6"},"encoding":{"x":{"field":"t","type":"quantitative","title":"Time","scale":{"domain":[3.9,14.4],"nice":false,"zero":false},"axis":{"tickCount":52,"labelExpr":"datum.value%2==0&&datum.value>5&&datum.value<13?format(datum.value,'.2f'):''"}},"y":{"field":"v","type":"quantitative","title":"%","scale":{"domain":[0,100],"nice":false},"axis":{"tickCount":10,"labelExpr":"datum.value==0||datum.value==100?datum.label:''"}}},"layer":[{"data":{"name":"L"},"transform":[{"filter":"datum.p==21"}],"mark":"line","encoding":{}},{"data":{"name":"A"},"transform":[{"filter":"datum.p==21&&datum.s=='c'"}],"mark":{"type":"text","style":"pc"},"encoding":{"text":{"field":"t","type":"quantitative","format":".2f"}}}]},
{"title":{"text":"240.2 > 148.1 (Salbutamol)","subtitle":"1.95e7"},"encoding":{"x":{"field":"t","type":"quantitative","title":"Time","scale":{"domain":[1.9,10.4],"nice":false,"zero":false},"axis":{"tickCount":42,"labelExpr":"datum.value%2==0&&datum.value>3&&datum.value<9?format(datum.value,'.2f'):''"}},"y":{"field":"v","type":"quantitative","title":"%","scale":{"domain":[0,100],"nice":false},"axis":{"tickCount":10,"labelExpr":"datum.value==0||datum.value==100?datum.label:''"}}},"layer":[{"data":{"name":"L"},"transform":[{"filter":"datum.p==22"}],"mark":"line","encoding":{}},{"data":{"name":"A"},"transform":[{"filter":"datum.p==22&&datum.s=='c'"}],"mark":{"type":"text","style":"pc"},"encoding":{"text":{"field":"t","type":"quantitative","format":".2f"}}}]},
{"title":{"text":"273.2 > 133.2 (Sotalol)","subtitle":"7.71e6"},"encoding":{"x":{"field":"t","type":"quantitative","title":"Time","scale":{"domain":[4,15],"nice":false,"zero":false},"axis":{"tickCount":55,"labelExpr":"datum.value%2==0&&datum.value>5&&datum.value<14.5?format(datum.value,'.2f'):''"}},"y":{"field":"v","type":"quantitative","title":"%","scale":{"domain":[0,100],"nice":false},"axis":{"tickCount":10,"labelExpr":"datum.value==0||datum.value==100?datum.label:''"}}},"layer":[{"data":{"name":"L"},"transform":[{"filter":"datum.p==23"}],"mark":"line","encoding":{}},{"data":{"name":"A"},"transform":[{"filter":"datum.p==23&&datum.s=='c'"}],"mark":{"type":"text","style":"pc"},"encoding":{"text":{"field":"t","type":"quantitative","format":".2f"}}}]},
{"title":{"text":"261.1 > 92.1 (Ifosfamide)","subtitle":"2.48e7"},"encoding":{"x":{"field":"t","type":"quantitative","title":"Time","scale":{"domain":[1.2,9.3],"nice":false,"zero":false},"axis":{"tickCount":40,"labelExpr":"datum.value%2==0&&datum.value>1.5&&datum.value<9?format(datum.value,'.2f'):''"}},"y":{"field":"v","type":"quantitative","title":"%","scale":{"domain":[0,100],"nice":false},"axis":{"tickCount":10,"labelExpr":"datum.value==0||datum.value==100?datum.label:''"}}},"layer":[{"data":{"name":"L"},"transform":[{"filter":"datum.p==24"}],"mark":"line","encoding":{}},{"data":{"name":"A"},"transform":[{"filter":"datum.p==24&&datum.s=='c'"}],"mark":{"type":"text","style":"pc"},"encoding":{"text":{"field":"t","type":"quantitative","format":".2f"}}}]},
{"title":{"text":"180.2 > 80.1 (Cotinine-d3)","subtitle":"2.22e7"},"encoding":{"x":{"field":"t","type":"quantitative","title":"Time","scale":{"domain":[1.25,8.85],"nice":false,"zero":false},"axis":{"tickCount":38,"labelExpr":"datum.value%2==0&&datum.value>1.5&&datum.value<8.5?format(datum.value,'.2f'):''"}},"y":{"field":"v","type":"quantitative","title":"%","scale":{"domain":[0,100],"nice":false},"axis":{"tickCount":10,"labelExpr":"datum.value==0||datum.value==100?datum.label:''"}}},"layer":[{"data":{"name":"L"},"transform":[{"filter":"datum.p==25"}],"mark":"line","encoding":{}},{"data":{"name":"A"},"transform":[{"filter":"datum.p==25&&datum.s=='c'"}],"mark":{"type":"text","style":"pc"},"encoding":{"text":{"field":"t","type":"quantitative","format":".2f"}}}]},
{"title":{"text":"177.1 > 98.1 (Cotinine)","subtitle":"9.01e7"},"encoding":{"x":{"field":"t","type":"quantitative","title":"Time","scale":{"domain":[1.3,8.9],"nice":false,"zero":false},"axis":{"tickCount":38,"labelExpr":"datum.value%2==0&&datum.value>1.5&&datum.value<8.5?format(datum.value,'.2f'):''"}},"y":{"field":"v","type":"quantitative","title":"%","scale":{"domain":[0,100],"nice":false},"axis":{"tickCount":10,"labelExpr":"datum.value==0||datum.value==100?datum.label:''"}}},"layer":[{"data":{"name":"L"},"transform":[{"filter":"datum.p==26"}],"mark":"line","encoding":{}},{"data":{"name":"A"},"transform":[{"filter":"datum.p==26&&datum.s=='c'"}],"mark":{"type":"text","style":"pc"},"encoding":{"text":{"field":"t","type":"quantitative","format":".2f"}}}]}
],
"config":{
"view":{"stroke":null,"continuousWidth":225,"continuousHeight":217},
"font":"Liberation Sans",
"axis":{"grid":false,"domainColor":"#222","domainWidth":1.2,"tickColor":"#333","tickSize":3,"tickWidth":0.8,"labelFont":"Liberation Sans","labelFontSize":9,"labelColor":"#111","labelPadding":1,"labelOverlap":false,"labelFlush":false,"titleFont":"Liberation Sans","titleFontWeight":"normal","titleColor":"#111"},
"axisX":{"titleX":228,"titleY":0,"titleAlign":"left","titleBaseline":"middle","titleFontSize":9.5,"titleAngle":0},
"axisY":{"titleX":-10,"titleY":108.5,"titleFontSize":7,"titleAngle":-90,"titleAlign":"center","titleBaseline":"middle"},
"title":{"anchor":"end","frame":"group","font":"Liberation Sans","fontSize":8.5,"fontWeight":"normal","color":"#ff3030","subtitleFont":"Liberation Sans","subtitleFontSize":8.5,"subtitleColor":"#ff3030","subtitlePadding":1,"offset":-8,"dx":25,"dy":11},
"line":{"color":"#ff1a1a","strokeWidth":1},
"text":{"font":"Liberation Sans","fontSize":8.5,"color":"#111","baseline":"middle"},
"style":{"pc":{"align":"center"},"pl":{"align":"right","dx":-2},"pr":{"align":"left","dx":3}}
}
}
